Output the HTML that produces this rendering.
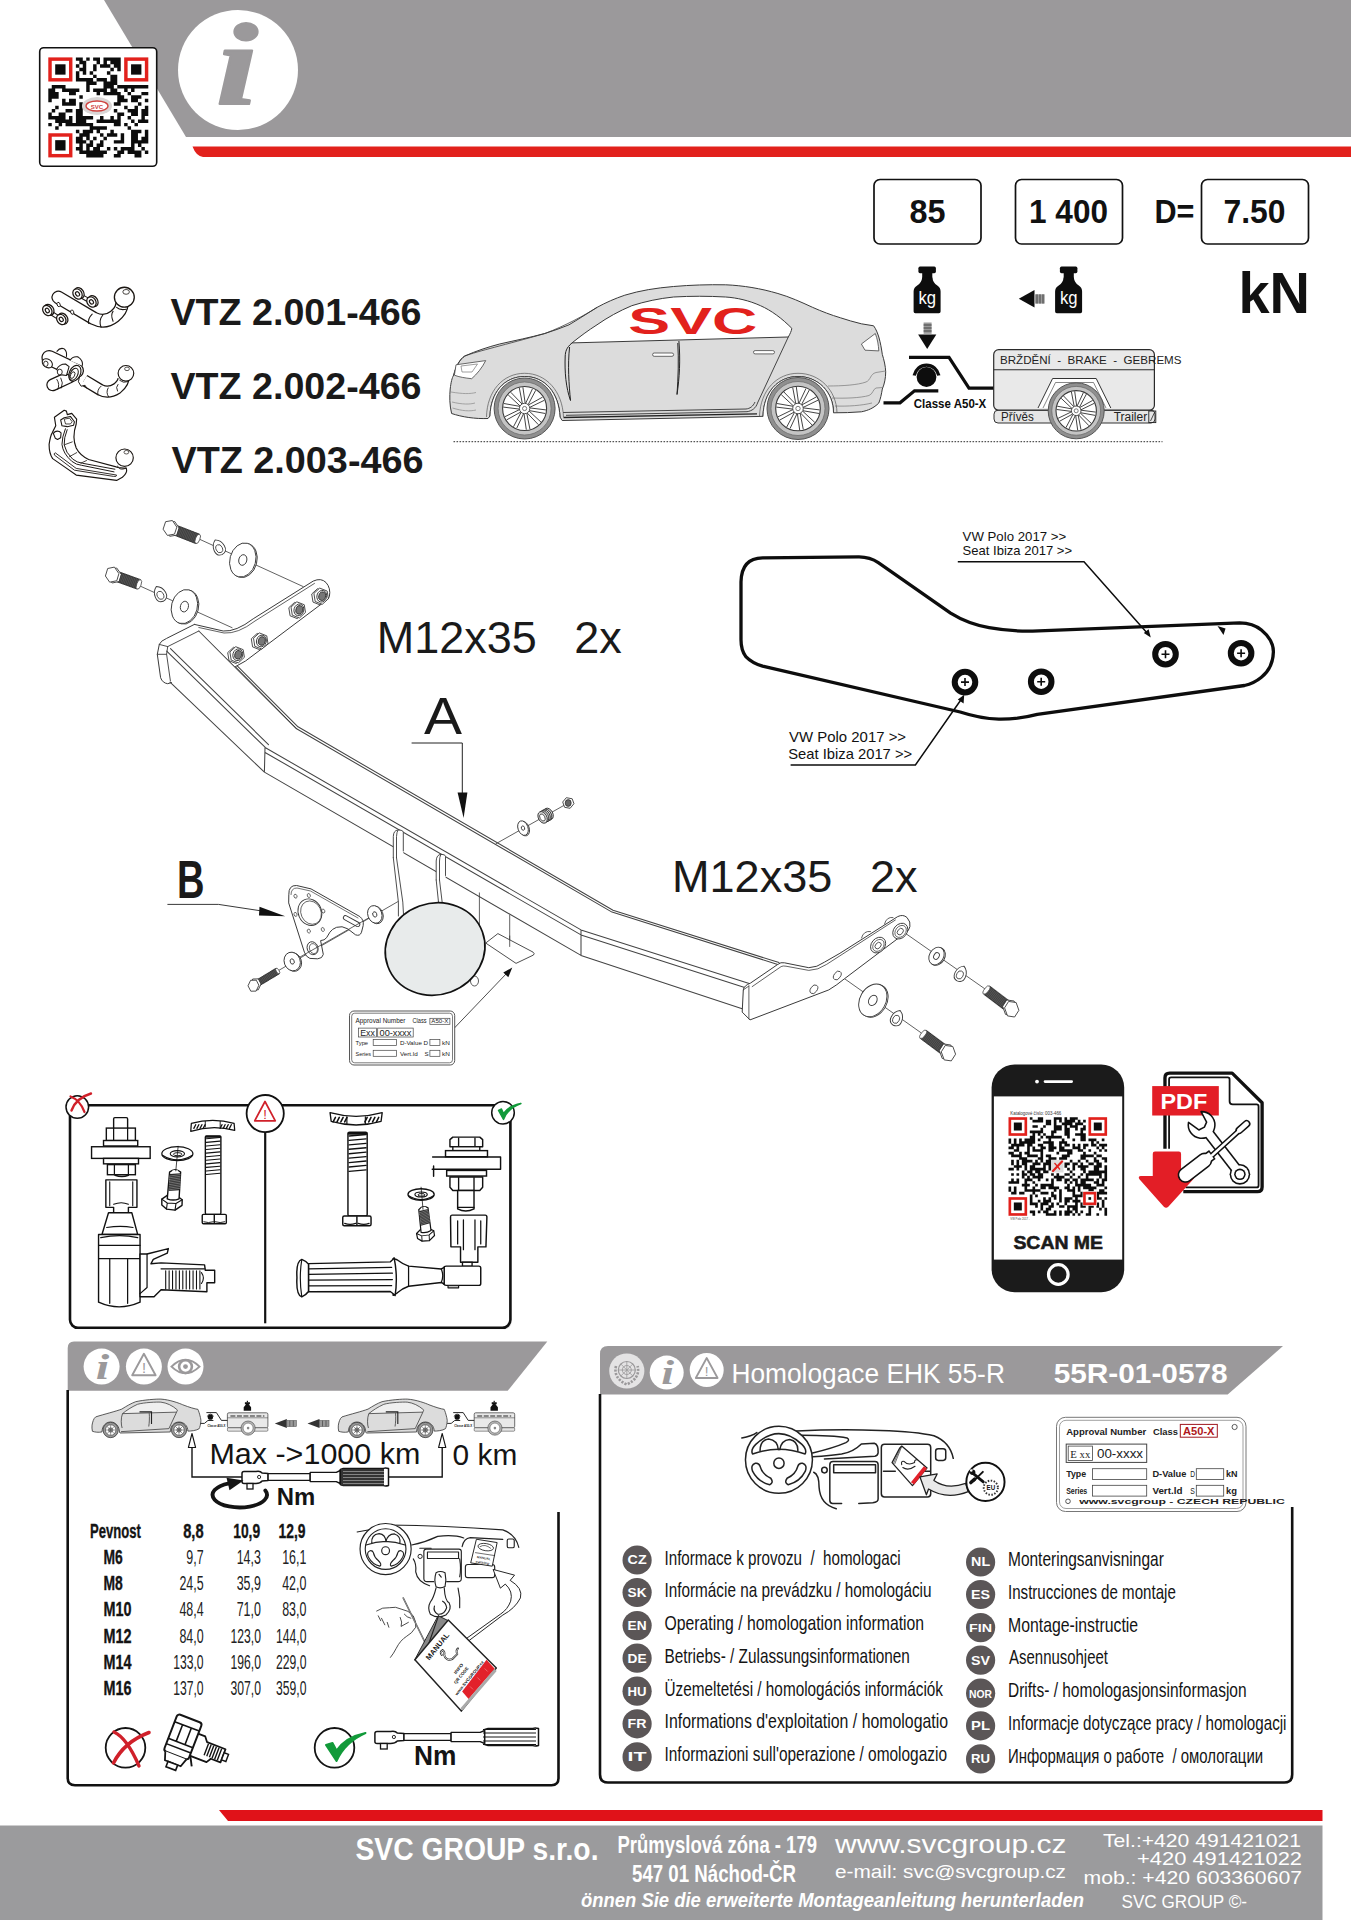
<!DOCTYPE html>
<html lang="cs"><head><meta charset="utf-8"><title>SVC GROUP - VTZ 466</title>
<style>
html,body{margin:0;padding:0;background:#fff;}
body{width:1351px;height:1920px;overflow:hidden;position:relative;}
svg{position:absolute;left:0;top:0;display:block;}
text{font-family:"Liberation Sans",sans-serif;white-space:pre;}
.b{font-weight:bold;}
.i{font-style:italic;}
.s{font-family:"Liberation Serif",serif;}
.k{fill:none;stroke:#1a1a1a;stroke-linecap:round;stroke-linejoin:round;}
</style></head><body>
<svg width="1351" height="1920" viewBox="0 0 1351 1920">
<!-- 01_frame.py -->
<path d="M104 0H1351V137H186Z" fill="#9b999b"/>
<path d="M192.5 146.5H1351V157H203Q196 156 192.5 146.5Z" fill="#e2211c"/>
<circle cx="238" cy="70" r="60" fill="#fff"/>
<text x="216.0" y="104.0" font-size="116.0" fill="#9b999b" textLength="42.0" lengthAdjust="spacingAndGlyphs" class="s b i" stroke="#9b999b" stroke-width="2" stroke-linejoin="round">i</text>
<rect x="39.7" y="47.7" width="117" height="118.6" rx="4" fill="#fff" stroke="#111" stroke-width="1.6"/>
<path d="M75.89 57.40h3.45v3.45h-3.45zM79.33 57.40h3.45v3.45h-3.45zM86.23 57.40h3.45v3.45h-3.45zM93.13 57.40h3.45v3.45h-3.45zM96.58 57.40h3.45v3.45h-3.45zM103.47 57.40h3.45v3.45h-3.45zM106.92 57.40h3.45v3.45h-3.45zM110.37 57.40h3.45v3.45h-3.45zM113.82 57.40h3.45v3.45h-3.45zM117.27 57.40h3.45v3.45h-3.45zM79.33 60.85h3.45v3.45h-3.45zM82.78 60.85h3.45v3.45h-3.45zM96.58 60.85h3.45v3.45h-3.45zM103.47 60.85h3.45v3.45h-3.45zM110.37 60.85h3.45v3.45h-3.45zM113.82 60.85h3.45v3.45h-3.45zM117.27 60.85h3.45v3.45h-3.45zM75.89 64.30h3.45v3.45h-3.45zM82.78 64.30h3.45v3.45h-3.45zM93.13 64.30h3.45v3.45h-3.45zM100.02 64.30h3.45v3.45h-3.45zM103.47 64.30h3.45v3.45h-3.45zM106.92 64.30h3.45v3.45h-3.45zM113.82 64.30h3.45v3.45h-3.45zM117.27 64.30h3.45v3.45h-3.45zM79.33 67.74h3.45v3.45h-3.45zM82.78 67.74h3.45v3.45h-3.45zM93.13 67.74h3.45v3.45h-3.45zM110.37 67.74h3.45v3.45h-3.45zM117.27 67.74h3.45v3.45h-3.45zM75.89 71.19h3.45v3.45h-3.45zM82.78 71.19h3.45v3.45h-3.45zM89.68 71.19h3.45v3.45h-3.45zM106.92 71.19h3.45v3.45h-3.45zM75.89 74.64h3.45v3.45h-3.45zM93.13 74.64h3.45v3.45h-3.45zM110.37 74.64h3.45v3.45h-3.45zM113.82 74.64h3.45v3.45h-3.45zM75.89 78.09h3.45v3.45h-3.45zM79.33 78.09h3.45v3.45h-3.45zM82.78 78.09h3.45v3.45h-3.45zM86.23 78.09h3.45v3.45h-3.45zM89.68 78.09h3.45v3.45h-3.45zM96.58 78.09h3.45v3.45h-3.45zM100.02 78.09h3.45v3.45h-3.45zM103.47 78.09h3.45v3.45h-3.45zM110.37 78.09h3.45v3.45h-3.45zM113.82 78.09h3.45v3.45h-3.45zM86.23 81.54h3.45v3.45h-3.45zM89.68 81.54h3.45v3.45h-3.45zM93.13 81.54h3.45v3.45h-3.45zM103.47 81.54h3.45v3.45h-3.45zM106.92 81.54h3.45v3.45h-3.45zM110.37 81.54h3.45v3.45h-3.45zM113.82 81.54h3.45v3.45h-3.45zM51.75 84.99h3.45v3.45h-3.45zM55.20 84.99h3.45v3.45h-3.45zM58.64 84.99h3.45v3.45h-3.45zM62.09 84.99h3.45v3.45h-3.45zM86.23 84.99h3.45v3.45h-3.45zM103.47 84.99h3.45v3.45h-3.45zM106.92 84.99h3.45v3.45h-3.45zM110.37 84.99h3.45v3.45h-3.45zM117.27 84.99h3.45v3.45h-3.45zM120.71 84.99h3.45v3.45h-3.45zM124.16 84.99h3.45v3.45h-3.45zM127.61 84.99h3.45v3.45h-3.45zM131.06 84.99h3.45v3.45h-3.45zM134.51 84.99h3.45v3.45h-3.45zM137.96 84.99h3.45v3.45h-3.45zM141.40 84.99h3.45v3.45h-3.45zM144.85 84.99h3.45v3.45h-3.45zM48.30 88.43h3.45v3.45h-3.45zM51.75 88.43h3.45v3.45h-3.45zM62.09 88.43h3.45v3.45h-3.45zM65.54 88.43h3.45v3.45h-3.45zM68.99 88.43h3.45v3.45h-3.45zM72.44 88.43h3.45v3.45h-3.45zM75.89 88.43h3.45v3.45h-3.45zM86.23 88.43h3.45v3.45h-3.45zM93.13 88.43h3.45v3.45h-3.45zM96.58 88.43h3.45v3.45h-3.45zM100.02 88.43h3.45v3.45h-3.45zM103.47 88.43h3.45v3.45h-3.45zM110.37 88.43h3.45v3.45h-3.45zM113.82 88.43h3.45v3.45h-3.45zM124.16 88.43h3.45v3.45h-3.45zM131.06 88.43h3.45v3.45h-3.45zM48.30 91.88h3.45v3.45h-3.45zM51.75 91.88h3.45v3.45h-3.45zM55.20 91.88h3.45v3.45h-3.45zM68.99 91.88h3.45v3.45h-3.45zM72.44 91.88h3.45v3.45h-3.45zM96.58 91.88h3.45v3.45h-3.45zM103.47 91.88h3.45v3.45h-3.45zM106.92 91.88h3.45v3.45h-3.45zM110.37 91.88h3.45v3.45h-3.45zM113.82 91.88h3.45v3.45h-3.45zM117.27 91.88h3.45v3.45h-3.45zM127.61 91.88h3.45v3.45h-3.45zM141.40 91.88h3.45v3.45h-3.45zM144.85 91.88h3.45v3.45h-3.45zM48.30 95.33h3.45v3.45h-3.45zM51.75 95.33h3.45v3.45h-3.45zM55.20 95.33h3.45v3.45h-3.45zM79.33 95.33h3.45v3.45h-3.45zM117.27 95.33h3.45v3.45h-3.45zM120.71 95.33h3.45v3.45h-3.45zM131.06 95.33h3.45v3.45h-3.45zM134.51 95.33h3.45v3.45h-3.45zM137.96 95.33h3.45v3.45h-3.45zM48.30 98.78h3.45v3.45h-3.45zM62.09 98.78h3.45v3.45h-3.45zM68.99 98.78h3.45v3.45h-3.45zM72.44 98.78h3.45v3.45h-3.45zM117.27 98.78h3.45v3.45h-3.45zM120.71 98.78h3.45v3.45h-3.45zM124.16 98.78h3.45v3.45h-3.45zM131.06 98.78h3.45v3.45h-3.45zM134.51 98.78h3.45v3.45h-3.45zM144.85 98.78h3.45v3.45h-3.45zM62.09 102.23h3.45v3.45h-3.45zM65.54 102.23h3.45v3.45h-3.45zM68.99 102.23h3.45v3.45h-3.45zM72.44 102.23h3.45v3.45h-3.45zM79.33 102.23h3.45v3.45h-3.45zM113.82 102.23h3.45v3.45h-3.45zM117.27 102.23h3.45v3.45h-3.45zM137.96 102.23h3.45v3.45h-3.45zM55.20 105.68h3.45v3.45h-3.45zM79.33 105.68h3.45v3.45h-3.45zM124.16 105.68h3.45v3.45h-3.45zM134.51 105.68h3.45v3.45h-3.45zM144.85 105.68h3.45v3.45h-3.45zM51.75 109.12h3.45v3.45h-3.45zM65.54 109.12h3.45v3.45h-3.45zM68.99 109.12h3.45v3.45h-3.45zM75.89 109.12h3.45v3.45h-3.45zM79.33 109.12h3.45v3.45h-3.45zM113.82 109.12h3.45v3.45h-3.45zM127.61 109.12h3.45v3.45h-3.45zM131.06 109.12h3.45v3.45h-3.45zM134.51 109.12h3.45v3.45h-3.45zM141.40 109.12h3.45v3.45h-3.45zM144.85 109.12h3.45v3.45h-3.45zM48.30 112.57h3.45v3.45h-3.45zM58.64 112.57h3.45v3.45h-3.45zM62.09 112.57h3.45v3.45h-3.45zM75.89 112.57h3.45v3.45h-3.45zM79.33 112.57h3.45v3.45h-3.45zM117.27 112.57h3.45v3.45h-3.45zM120.71 112.57h3.45v3.45h-3.45zM131.06 112.57h3.45v3.45h-3.45zM134.51 112.57h3.45v3.45h-3.45zM141.40 112.57h3.45v3.45h-3.45zM144.85 112.57h3.45v3.45h-3.45zM48.30 116.02h3.45v3.45h-3.45zM51.75 116.02h3.45v3.45h-3.45zM55.20 116.02h3.45v3.45h-3.45zM58.64 116.02h3.45v3.45h-3.45zM62.09 116.02h3.45v3.45h-3.45zM68.99 116.02h3.45v3.45h-3.45zM75.89 116.02h3.45v3.45h-3.45zM79.33 116.02h3.45v3.45h-3.45zM82.78 116.02h3.45v3.45h-3.45zM86.23 116.02h3.45v3.45h-3.45zM89.68 116.02h3.45v3.45h-3.45zM100.02 116.02h3.45v3.45h-3.45zM110.37 116.02h3.45v3.45h-3.45zM117.27 116.02h3.45v3.45h-3.45zM127.61 116.02h3.45v3.45h-3.45zM141.40 116.02h3.45v3.45h-3.45zM55.20 119.47h3.45v3.45h-3.45zM58.64 119.47h3.45v3.45h-3.45zM62.09 119.47h3.45v3.45h-3.45zM65.54 119.47h3.45v3.45h-3.45zM68.99 119.47h3.45v3.45h-3.45zM75.89 119.47h3.45v3.45h-3.45zM79.33 119.47h3.45v3.45h-3.45zM82.78 119.47h3.45v3.45h-3.45zM96.58 119.47h3.45v3.45h-3.45zM100.02 119.47h3.45v3.45h-3.45zM103.47 119.47h3.45v3.45h-3.45zM106.92 119.47h3.45v3.45h-3.45zM110.37 119.47h3.45v3.45h-3.45zM113.82 119.47h3.45v3.45h-3.45zM117.27 119.47h3.45v3.45h-3.45zM131.06 119.47h3.45v3.45h-3.45zM137.96 119.47h3.45v3.45h-3.45zM141.40 119.47h3.45v3.45h-3.45zM144.85 119.47h3.45v3.45h-3.45zM48.30 122.92h3.45v3.45h-3.45zM58.64 122.92h3.45v3.45h-3.45zM65.54 122.92h3.45v3.45h-3.45zM68.99 122.92h3.45v3.45h-3.45zM72.44 122.92h3.45v3.45h-3.45zM75.89 122.92h3.45v3.45h-3.45zM79.33 122.92h3.45v3.45h-3.45zM82.78 122.92h3.45v3.45h-3.45zM86.23 122.92h3.45v3.45h-3.45zM89.68 122.92h3.45v3.45h-3.45zM113.82 122.92h3.45v3.45h-3.45zM117.27 122.92h3.45v3.45h-3.45zM124.16 122.92h3.45v3.45h-3.45zM134.51 122.92h3.45v3.45h-3.45zM55.20 126.37h3.45v3.45h-3.45zM89.68 126.37h3.45v3.45h-3.45zM93.13 126.37h3.45v3.45h-3.45zM96.58 126.37h3.45v3.45h-3.45zM100.02 126.37h3.45v3.45h-3.45zM103.47 126.37h3.45v3.45h-3.45zM127.61 126.37h3.45v3.45h-3.45zM75.89 129.81h3.45v3.45h-3.45zM82.78 129.81h3.45v3.45h-3.45zM86.23 129.81h3.45v3.45h-3.45zM89.68 129.81h3.45v3.45h-3.45zM96.58 129.81h3.45v3.45h-3.45zM110.37 129.81h3.45v3.45h-3.45zM131.06 129.81h3.45v3.45h-3.45zM134.51 129.81h3.45v3.45h-3.45zM137.96 129.81h3.45v3.45h-3.45zM144.85 129.81h3.45v3.45h-3.45zM79.33 133.26h3.45v3.45h-3.45zM82.78 133.26h3.45v3.45h-3.45zM86.23 133.26h3.45v3.45h-3.45zM100.02 133.26h3.45v3.45h-3.45zM106.92 133.26h3.45v3.45h-3.45zM110.37 133.26h3.45v3.45h-3.45zM113.82 133.26h3.45v3.45h-3.45zM120.71 133.26h3.45v3.45h-3.45zM131.06 133.26h3.45v3.45h-3.45zM134.51 133.26h3.45v3.45h-3.45zM144.85 133.26h3.45v3.45h-3.45zM75.89 136.71h3.45v3.45h-3.45zM79.33 136.71h3.45v3.45h-3.45zM86.23 136.71h3.45v3.45h-3.45zM93.13 136.71h3.45v3.45h-3.45zM103.47 136.71h3.45v3.45h-3.45zM120.71 136.71h3.45v3.45h-3.45zM131.06 136.71h3.45v3.45h-3.45zM134.51 136.71h3.45v3.45h-3.45zM141.40 136.71h3.45v3.45h-3.45zM144.85 136.71h3.45v3.45h-3.45zM75.89 140.16h3.45v3.45h-3.45zM79.33 140.16h3.45v3.45h-3.45zM82.78 140.16h3.45v3.45h-3.45zM89.68 140.16h3.45v3.45h-3.45zM100.02 140.16h3.45v3.45h-3.45zM113.82 140.16h3.45v3.45h-3.45zM117.27 140.16h3.45v3.45h-3.45zM120.71 140.16h3.45v3.45h-3.45zM131.06 140.16h3.45v3.45h-3.45zM134.51 140.16h3.45v3.45h-3.45zM137.96 140.16h3.45v3.45h-3.45zM141.40 140.16h3.45v3.45h-3.45zM144.85 140.16h3.45v3.45h-3.45zM79.33 143.61h3.45v3.45h-3.45zM86.23 143.61h3.45v3.45h-3.45zM89.68 143.61h3.45v3.45h-3.45zM96.58 143.61h3.45v3.45h-3.45zM100.02 143.61h3.45v3.45h-3.45zM131.06 143.61h3.45v3.45h-3.45zM137.96 143.61h3.45v3.45h-3.45zM75.89 147.06h3.45v3.45h-3.45zM79.33 147.06h3.45v3.45h-3.45zM86.23 147.06h3.45v3.45h-3.45zM93.13 147.06h3.45v3.45h-3.45zM96.58 147.06h3.45v3.45h-3.45zM106.92 147.06h3.45v3.45h-3.45zM113.82 147.06h3.45v3.45h-3.45zM120.71 147.06h3.45v3.45h-3.45zM124.16 147.06h3.45v3.45h-3.45zM127.61 147.06h3.45v3.45h-3.45zM131.06 147.06h3.45v3.45h-3.45zM141.40 147.06h3.45v3.45h-3.45zM79.33 150.50h3.45v3.45h-3.45zM82.78 150.50h3.45v3.45h-3.45zM86.23 150.50h3.45v3.45h-3.45zM89.68 150.50h3.45v3.45h-3.45zM93.13 150.50h3.45v3.45h-3.45zM96.58 150.50h3.45v3.45h-3.45zM100.02 150.50h3.45v3.45h-3.45zM103.47 150.50h3.45v3.45h-3.45zM117.27 150.50h3.45v3.45h-3.45zM120.71 150.50h3.45v3.45h-3.45zM127.61 150.50h3.45v3.45h-3.45zM131.06 150.50h3.45v3.45h-3.45zM134.51 150.50h3.45v3.45h-3.45zM137.96 150.50h3.45v3.45h-3.45zM144.85 150.50h3.45v3.45h-3.45zM86.23 153.95h3.45v3.45h-3.45zM89.68 153.95h3.45v3.45h-3.45zM93.13 153.95h3.45v3.45h-3.45zM96.58 153.95h3.45v3.45h-3.45zM100.02 153.95h3.45v3.45h-3.45zM113.82 153.95h3.45v3.45h-3.45zM117.27 153.95h3.45v3.45h-3.45zM134.51 153.95h3.45v3.45h-3.45zM137.96 153.95h3.45v3.45h-3.45z" fill="#0c0c0c"/><rect x="50.02" y="59.12" width="20.69" height="20.69" fill="none" stroke="#e2211c" stroke-width="3.45"/><rect x="55.20" y="64.30" width="10.34" height="10.34" fill="#0c0c0c"/><rect x="125.89" y="59.12" width="20.69" height="20.69" fill="none" stroke="#e2211c" stroke-width="3.45"/><rect x="131.06" y="64.30" width="10.34" height="10.34" fill="#0c0c0c"/><rect x="50.02" y="134.99" width="20.69" height="20.69" fill="none" stroke="#e2211c" stroke-width="3.45"/><rect x="55.20" y="140.16" width="10.34" height="10.34" fill="#0c0c0c"/>
<ellipse cx="97" cy="106" rx="15" ry="9" fill="#d9d6d6"/><ellipse cx="97" cy="106" rx="11" ry="5" fill="#fff" stroke="#d0423f" stroke-width="1.3"/>
<text x="97.0" y="108.5" font-size="6.0" fill="#d0423f" text-anchor="middle" class="b" >SVC</text>
<rect x="874.0" y="179.5" width="107" height="64.5" rx="6" fill="#fff" stroke="#111" stroke-width="1.7"/>
<rect x="1015.5" y="179.5" width="107" height="64.5" rx="6" fill="#fff" stroke="#111" stroke-width="1.7"/>
<rect x="1201.5" y="179.5" width="107" height="64.5" rx="6" fill="#fff" stroke="#111" stroke-width="1.7"/>
<text x="927.5" y="223.0" font-size="32.5" fill="#111" textLength="36.0" lengthAdjust="spacingAndGlyphs" text-anchor="middle" class="b" >85</text>
<text x="1068.5" y="223.0" font-size="32.5" fill="#111" textLength="79.0" lengthAdjust="spacingAndGlyphs" text-anchor="middle" class="b" >1 400</text>
<text x="1254.5" y="223.0" font-size="32.5" fill="#111" textLength="62.0" lengthAdjust="spacingAndGlyphs" text-anchor="middle" class="b" >7.50</text>
<text x="1154.5" y="223.0" font-size="34.0" fill="#111" textLength="40.0" lengthAdjust="spacingAndGlyphs" class="b" >D=</text>
<text x="1238.5" y="312.7" font-size="56.5" fill="#111" textLength="71.5" lengthAdjust="spacingAndGlyphs" class="b" >kN</text>
<text x="170.5" y="325.0" font-size="36.0" fill="#1a1a1a" textLength="251.0" lengthAdjust="spacingAndGlyphs" class="b" >VTZ 2.001-466</text>
<text x="170.5" y="398.8" font-size="36.0" fill="#1a1a1a" textLength="251.0" lengthAdjust="spacingAndGlyphs" class="b" >VTZ 2.002-466</text>
<text x="171.5" y="472.6" font-size="36.0" fill="#1a1a1a" textLength="252.0" lengthAdjust="spacingAndGlyphs" class="b" >VTZ 2.003-466</text>
<path d="M0 1825.5H1322.5V1920H0Z" fill="#9b9b9d"/>
<path d="M219 1810H1322.5V1821H228Z" fill="#e01219"/>
<text x="355.5" y="1860.0" font-size="30.5" fill="#fff" textLength="243.0" lengthAdjust="spacingAndGlyphs" class="b" >SVC GROUP s.r.o.</text>
<text x="617.5" y="1853.0" font-size="24.0" fill="#fff" textLength="199.5" lengthAdjust="spacingAndGlyphs" class="b" >Průmyslová zóna - 179</text>
<text x="632.0" y="1882.0" font-size="24.0" fill="#fff" textLength="164.0" lengthAdjust="spacingAndGlyphs" class="b" >547 01 Náchod-ČR</text>
<text x="835.0" y="1853.0" font-size="26.0" fill="#fff" textLength="231.5" lengthAdjust="spacingAndGlyphs" >www.svcgroup.cz</text>
<text x="835.0" y="1878.0" font-size="18.0" fill="#fff" textLength="231.0" lengthAdjust="spacingAndGlyphs" >e-mail: svc@svcgroup.cz</text>
<text x="1103.0" y="1846.5" font-size="19.0" fill="#fff" textLength="198.0" lengthAdjust="spacingAndGlyphs" >Tel.:+420 491421021</text>
<text x="1137.0" y="1864.5" font-size="19.0" fill="#fff" textLength="165.0" lengthAdjust="spacingAndGlyphs" >+420 491421022</text>
<text x="1083.5" y="1883.5" font-size="19.0" fill="#fff" textLength="218.5" lengthAdjust="spacingAndGlyphs" >mob.: +420 603360607</text>
<text x="581.0" y="1907.0" font-size="19.5" fill="#fff" textLength="503.0" lengthAdjust="spacingAndGlyphs" class="b i" >önnen Sie die erweiterte Montageanleitung herunterladen</text>
<text x="1121.5" y="1908.0" font-size="19.0" fill="#fff" textLength="125.5" lengthAdjust="spacingAndGlyphs" >SVC GROUP ©-</text>
<!-- 02_top.py -->
<g transform="translate(30 275) scale(0.08883)"><path d="M318 252L715 487Q840 552 950 465Q1030 400 1035 330" fill="none" stroke="#1b1612" stroke-width="154" stroke-linecap="round" stroke-linejoin="round"/><path d="M318 252L715 487Q840 552 950 465Q1030 400 1035 330" fill="none" stroke="#fff" stroke-width="126" stroke-linecap="round" stroke-linejoin="round"/><path d="M700 440Q650 490 660 545M820 450Q770 510 800 590M935 410Q905 450 935 520M975 365Q1010 400 1085 385" fill="none" stroke="#1b1612" stroke-width="12" stroke-linecap="round"/><circle cx="1062" cy="250" r="112" fill="#fff" stroke="#1b1612" stroke-width="15"/><ellipse cx="1082" cy="190" rx="37" ry="27" fill="none" stroke="#1b1612" stroke-width="9"/><path d="M195 400L352 500" stroke="#1b1612" stroke-width="52" fill="none"/><path d="M195 400L352 500" stroke="#fff" stroke-width="28" fill="none"/><ellipse cx="213" cy="392" rx="52" ry="66" transform="rotate(-35 213 392)" fill="#fff" stroke="#1b1612" stroke-width="14"/><ellipse cx="195" cy="400" rx="48" ry="62" transform="rotate(-35 195 400)" fill="#fff" stroke="#1b1612" stroke-width="14"/><ellipse cx="195" cy="400" rx="20" ry="27" transform="rotate(-35 195 400)" fill="#fff" stroke="#1b1612" stroke-width="13"/><ellipse cx="370" cy="492" rx="52" ry="66" transform="rotate(-35 370 492)" fill="#fff" stroke="#1b1612" stroke-width="14"/><ellipse cx="352" cy="500" rx="48" ry="62" transform="rotate(-35 352 500)" fill="#fff" stroke="#1b1612" stroke-width="14"/><ellipse cx="352" cy="500" rx="20" ry="27" transform="rotate(-35 352 500)" fill="#fff" stroke="#1b1612" stroke-width="13"/><path d="M535 213L692 303" stroke="#1b1612" stroke-width="52" fill="none"/><path d="M535 213L692 303" stroke="#fff" stroke-width="28" fill="none"/><ellipse cx="553" cy="205" rx="52" ry="66" transform="rotate(-35 553 205)" fill="#fff" stroke="#1b1612" stroke-width="14"/><ellipse cx="535" cy="213" rx="48" ry="62" transform="rotate(-35 535 213)" fill="#fff" stroke="#1b1612" stroke-width="14"/><ellipse cx="535" cy="213" rx="20" ry="27" transform="rotate(-35 535 213)" fill="#fff" stroke="#1b1612" stroke-width="13"/><ellipse cx="710" cy="295" rx="52" ry="66" transform="rotate(-35 710 295)" fill="#fff" stroke="#1b1612" stroke-width="14"/><ellipse cx="692" cy="303" rx="48" ry="62" transform="rotate(-35 692 303)" fill="#fff" stroke="#1b1612" stroke-width="14"/><ellipse cx="692" cy="303" rx="20" ry="27" transform="rotate(-35 692 303)" fill="#fff" stroke="#1b1612" stroke-width="13"/><ellipse cx="322" cy="332" rx="17" ry="25" transform="rotate(-20 322 332)" fill="#fff" stroke="#1b1612" stroke-width="10"/><ellipse cx="475" cy="418" rx="17" ry="25" transform="rotate(-20 475 418)" fill="#fff" stroke="#1b1612" stroke-width="10"/></g>
<g transform="translate(30 340) scale(0.08883)"><path d="M610 452L790 560Q880 610 980 545Q1060 480 1050 420" fill="none" stroke="#1b1612" stroke-width="136" stroke-linecap="butt" stroke-linejoin="round"/><path d="M610 452L790 560Q880 610 980 545Q1060 480 1050 420" fill="none" stroke="#fff" stroke-width="108" stroke-linecap="butt" stroke-linejoin="round"/><path d="M560 400L545 470L575 520L620 510L640 545" fill="#fff" stroke="#1b1612" stroke-width="11"/><path d="M800 520Q750 560 765 620M880 540Q850 590 885 640M990 500Q960 530 985 575M1010 455Q1050 490 1100 470" fill="none" stroke="#1b1612" stroke-width="10" stroke-linecap="round"/><circle cx="1080" cy="375" r="88" fill="#fff" stroke="#1b1612" stroke-width="13"/><ellipse cx="1092" cy="325" rx="27" ry="20" fill="none" stroke="#1b1612" stroke-width="8"/><path d="M255 505L440 420" fill="none" stroke="#1b1612" stroke-width="144" stroke-linecap="round" stroke-linejoin="round"/><path d="M255 505L440 420" fill="none" stroke="#fff" stroke-width="116" stroke-linecap="round" stroke-linejoin="round"/><path d="M300 440Q340 500 310 560M345 425Q380 480 350 545" fill="none" stroke="#1b1612" stroke-width="10"/><path d="M215 200L520 345" fill="none" stroke="#1b1612" stroke-width="176" stroke-linecap="round" stroke-linejoin="round"/><path d="M215 200L520 345" fill="none" stroke="#fff" stroke-width="148" stroke-linecap="round" stroke-linejoin="round"/><path d="M300 130Q340 80 385 100Q420 130 410 190M450 230Q480 180 540 190Q600 230 590 290" fill="#fff" stroke="#1b1612" stroke-width="12"/><ellipse cx="195" cy="262" rx="62" ry="46" transform="rotate(35 195 262)" fill="#fff" stroke="#1b1612" stroke-width="12"/><ellipse cx="178" cy="268" rx="25" ry="30" fill="#fff" stroke="#1b1612" stroke-width="10"/><path d="M300 330Q330 270 400 270L440 300L410 400L340 390Z" fill="#fff" stroke="#1b1612" stroke-width="12" stroke-linejoin="round"/><ellipse cx="335" cy="360" rx="28" ry="32" fill="#fff" stroke="#1b1612" stroke-width="10"/><ellipse cx="505" cy="375" rx="62" ry="95" transform="rotate(25 505 375)" fill="#fff" stroke="#1b1612" stroke-width="13"/><ellipse cx="495" cy="385" rx="42" ry="72" transform="rotate(25 495 385)" fill="#fff" stroke="#1b1612" stroke-width="11"/><ellipse cx="480" cy="395" rx="22" ry="40" transform="rotate(25 480 395)" fill="#fff" stroke="#1b1612" stroke-width="9"/></g>
<g transform="translate(30 400) scale(0.08883)"><path d="M275 195L385 115L410 125L420 165L470 150L525 215L520 270Q470 420 520 540Q560 620 660 670L960 750L990 760L1085 770Q1100 820 1040 870L975 905L520 845Q400 760 255 660Q215 600 215 500Q230 400 250 370L290 290Z" fill="#fff" stroke="#1b1612" stroke-width="13" stroke-linejoin="round"/><path d="M285 595Q265 600 275 620L500 790L940 860Q980 865 975 845L520 770Z" fill="#fff" stroke="#1b1612" stroke-width="10" stroke-linejoin="round"/><path d="M400 320Q360 420 360 500Q370 600 470 690Q520 730 580 735L950 810M420 330Q380 430 385 505Q400 590 480 665Q530 705 590 712L960 780" fill="none" stroke="#1b1612" stroke-width="11"/><path d="M385 505L480 470M440 640L530 590M570 712L640 680" fill="none" stroke="#1b1612" stroke-width="9"/><path d="M345 225L385 200L455 185L500 245L490 285L420 300L360 290Z" fill="#fff" stroke="#1b1612" stroke-width="12" stroke-linejoin="round"/><path d="M385 215L445 205L475 245L455 270L400 270Z" fill="#fff" stroke="#1b1612" stroke-width="9"/><path d="M262 375Q290 340 330 355L350 370L345 425L310 445L285 430Z" fill="#fff" stroke="#1b1612" stroke-width="12" stroke-linejoin="round"/><path d="M985 740Q1000 790 1060 775L1085 760" fill="none" stroke="#1b1612" stroke-width="10"/><circle cx="1065" cy="650" r="98" fill="#fff" stroke="#1b1612" stroke-width="13"/><ellipse cx="1085" cy="588" rx="27" ry="20" fill="none" stroke="#1b1612" stroke-width="8"/></g>
<path d="M453.5 441.7H1162.5" stroke="#555" stroke-width="1.2" stroke-dasharray="1.6 1.4" fill="none"/>
<g transform="translate(0.00 0.00) scale(1.0000)"><path d="M451.6 413.5C449.5 405 449.5 396 450.2 389C451 382 452 378 453.7 375C456 366 460 359 464.8 356C476 351 488 347 499.6 344C515 340.5 530 337.5 544.8 333.5C553 331 561 328 569 324.8C578 319.5 588 313 597 307.4C606 302.5 615 298.5 624.8 295.2C640 290.5 656 288 673.5 286.5C691 285 708 284.5 725.7 284.8C743 285.5 761 288.5 777.9 293.5C790 297 801 302 812.7 307.4C822 311.5 831 315 840.5 317.8C847 320 854 322 861.4 323.8L873.6 325.8C876 329 877.5 333 878.8 337C880.5 343 881.5 348.5 882.3 354.4C884 360 885.5 366 885.7 371.8C885.7 378 884.5 384 882.3 389C881.5 394 880.5 399 878.8 403C874 408 868 410.5 861.4 411.8C852 412.6 843 412.8 833.5 412.8C833.5 392 818 376.5 798 376.5C778 376.5 763.5 392 763 416.3L757 416.5L562.2 420.5L560 417C559 393 545 376.5 524.6 376.5C504 376.5 490.5 393 490 416L488 418.5C475 419 462 417 451.6 413.5Z" fill="#dcdcdc" stroke="#3a3a3a" stroke-width="1" stroke-linejoin="round"/><path d="M572 342.9L788.3 337C790 334 791.5 331 791.8 328.3C782 318.5 771.5 310.5 760.5 305.7C749 300.5 737 297.8 725.7 297C708 296 691 296 673.5 297C659 298.5 645 301.5 631.8 305.7C619 311 607.5 317.5 597 324.8C588 330.5 580 336.5 572 342.9Z" fill="#fff" stroke="#3a3a3a" stroke-width="1" stroke-linejoin="round"/><path d="M453.7 375C456 366 460 359 464.8 356C478 351 505 345 544.8 333.5C565 326 585 315 597 307.4" fill="none" stroke="#3a3a3a" stroke-width="0.8"/><path d="M572 342.9C566 348 565.5 352 565.2 356C564.5 372 566 388 570.5 400.5M569.6 347C567.5 365 569 385 570.5 400.5" fill="none" stroke="#222" stroke-width="1"/><path d="M678.9 341C680.5 360 679.5 378 677 394.5M677.8 343C678.8 360 678.2 378 677 394.5" fill="none" stroke="#222" stroke-width="1"/><path d="M788.3 337L757.5 403C756 408 752 411 747 411.7L566 415.3M563 412.5L746 409C750 408.5 753 406.5 755 402" fill="none" stroke="#333" stroke-width="0.9"/><path d="M563.5 417.5L757 413.8" stroke="#222" stroke-width="1.3" fill="none"/><rect x="652.6" y="353" width="21" height="3.3" rx="1.6" fill="#fff" stroke="#444" stroke-width="0.8"/><rect x="753.5" y="350.6" width="21" height="3.3" rx="1.6" fill="#fff" stroke="#444" stroke-width="0.8"/><path d="M456 364.8L485.7 360.6C482 368 477 374 471.7 378.7C465 378 459 377 454.4 375.2Z" fill="#fff" stroke="#444" stroke-width="0.8" stroke-linejoin="round"/><path d="M461 366L477.5 364L472 372L462 372Z" fill="none" stroke="#777" stroke-width="0.7"/><path d="M861.4 344L875.3 333.5C877.5 339 878.5 345 878.8 350.9L865 350.2Z" fill="#fff" stroke="#444" stroke-width="0.8" stroke-linejoin="round"/><path d="M451 392C463 394 470 394 476 392.5M452 402C462 404.5 470 404.5 475 403M452.5 408C462 411 470 411.5 476 410" fill="none" stroke="#888" stroke-width="0.7"/><path d="M828 386C842 386 858 385 866 382C871 380 870 374 876 372.5L885.5 371M832 398C845 398.5 860 398 869 395.5C873 394 873 389 876 388L883 387.5M835 406C848 406.5 862 405.5 872 403" fill="none" stroke="#777" stroke-width="0.7"/><path d="M490 416C490.5 393 504 376.5 524.6 376.5C545 376.5 559 393 560 417M763 416.3C763.5 392 778 376.5 798 376.5C818 376.5 833.5 392 833.5 412.8" fill="#fff" stroke="#3a3a3a" stroke-width="0.9"/><path d="M486.5 417C487 391 503 373.3 524.6 373.3C546 373.3 562.5 391 563.5 417" fill="none" stroke="#555" stroke-width="0.7"/><path d="M759.5 416C760.5 390 777 373.3 798 373.3C819.5 373.3 836.5 390 837 412.8" fill="none" stroke="#555" stroke-width="0.7"/><circle cx="524.6" cy="408.5" r="30.5" fill="#8f8f8f" stroke="#555" stroke-width="1"/><circle cx="524.6" cy="408.5" r="26.5" fill="#c4c4c4" stroke="#666" stroke-width="0.7"/><circle cx="524.6" cy="408.5" r="22.0" fill="#fff" stroke="#3a3a3a" stroke-width="1.1"/><path d="M529.7 407.9L545.9 409.9M529.3 410.6L545.3 413.5M529.1 411.0L541.0 422.1M527.2 413.0L538.4 424.7M526.8 413.2L529.9 429.1M524.0 413.7L526.3 429.7M523.6 413.6L516.7 428.3M521.1 412.3L513.5 426.7M520.8 412.0L506.6 419.9M519.5 409.6L504.9 416.7M519.5 409.1L503.3 407.1M519.9 406.4L503.9 403.5M520.1 406.0L508.2 394.9M522.0 404.0L510.8 392.3M522.4 403.8L519.3 387.9M525.2 403.3L522.9 387.3M525.6 403.4L532.5 388.7M528.1 404.7L535.7 390.3M528.4 405.0L542.6 397.1M529.7 407.4L544.3 400.3" stroke="#3a3a3a" stroke-width="0.95" fill="none"/><circle cx="524.6" cy="408.5" r="5.2" fill="#fff" stroke="#3a3a3a" stroke-width="0.9"/><circle cx="524.6" cy="408.5" r="2.1" fill="#fff" stroke="#444" stroke-width="0.7"/><circle cx="798.0" cy="408.5" r="31.0" fill="#8f8f8f" stroke="#555" stroke-width="1"/><circle cx="798.0" cy="408.5" r="27.0" fill="#c4c4c4" stroke="#666" stroke-width="0.7"/><circle cx="798.0" cy="408.5" r="22.3" fill="#fff" stroke="#3a3a3a" stroke-width="1.1"/><path d="M803.2 407.9L819.6 409.9M802.8 410.7L819.1 413.5M802.6 411.1L814.7 422.3M800.6 413.1L812.1 425.0M800.2 413.3L803.3 429.5M797.4 413.7L799.7 430.1M797.0 413.7L790.0 428.6M794.5 412.4L786.7 427.0M794.1 412.1L779.7 420.1M792.8 409.6L778.0 416.8M792.8 409.1L776.4 407.1M793.2 406.3L776.9 403.5M793.4 405.9L781.3 394.7M795.4 403.9L783.9 392.0M795.8 403.7L792.7 387.5M798.6 403.3L796.3 386.9M799.0 403.3L806.0 388.4M801.5 404.6L809.3 390.0M801.9 404.9L816.3 396.9M803.2 407.4L818.0 400.2" stroke="#3a3a3a" stroke-width="0.95" fill="none"/><circle cx="798.0" cy="408.5" r="5.3" fill="#fff" stroke="#3a3a3a" stroke-width="0.9"/><circle cx="798.0" cy="408.5" r="2.2" fill="#fff" stroke="#444" stroke-width="0.7"/></g>
<text x="628.3" y="333.5" font-size="36.5" fill="#e2211c" textLength="129.0" lengthAdjust="spacingAndGlyphs" class="b" >SVC</text>
<path d="M883.5 402.8H900L914.5 390.8H938.3" fill="none" stroke="#0d0d0d" stroke-width="3.2" stroke-linejoin="miter"/>
<path d="M909 357.3H949L969 388.2H994" fill="none" stroke="#0d0d0d" stroke-width="3.2" stroke-linejoin="miter"/>
<circle cx="926.5" cy="377" r="9.9" fill="#0d0d0d"/><path d="M914.2 375.5A12.6 13.2 0 0 1 938.8 375.5" fill="none" stroke="#0d0d0d" stroke-width="3.4"/>
<text x="913.8" y="407.8" font-size="12.3" fill="#0d0d0d" textLength="72.5" lengthAdjust="spacingAndGlyphs" class="b" >Classe A50-X</text>
<path d="M918.1 334.4H936.3L927.2 349Z" fill="#0d0d0d"/><rect x="923.6" y="322.5" width="8" height="11.3" fill="#9a9a9a"/><path d="M923.6 325H931.6M923.6 328H931.6M923.6 331H931.6" stroke="#444" stroke-width="1"/>
<g transform="translate(913.8 266.0)"><rect x="4.6" y="0.6" width="17.5" height="6.6" rx="1.6" fill="#0d0d0d"/><rect x="8.4" y="5" width="10.1" height="9" fill="#0d0d0d"/><path d="M8.4 11.5H18.5Q19 16.5 23.5 19.5Q26.8 21.5 26.8 25.5V45.6Q26.8 47.3 25.1 47.3H1.5Q-0.2 47.3 -0.2 45.6V25.5Q-0.2 21.5 3.4 19.5Q7.9 16.5 8.4 11.5Z" fill="#0d0d0d"/><text x="13.5" y="38.2" font-size="18.5" fill="#fff" textLength="17.6" lengthAdjust="spacingAndGlyphs" text-anchor="middle" >kg</text></g>
<g transform="translate(1055.3 266.0)"><rect x="4.6" y="0.6" width="17.5" height="6.6" rx="1.6" fill="#0d0d0d"/><rect x="8.4" y="5" width="10.1" height="9" fill="#0d0d0d"/><path d="M8.4 11.5H18.5Q19 16.5 23.5 19.5Q26.8 21.5 26.8 25.5V45.6Q26.8 47.3 25.1 47.3H1.5Q-0.2 47.3 -0.2 45.6V25.5Q-0.2 21.5 3.4 19.5Q7.9 16.5 8.4 11.5Z" fill="#0d0d0d"/><text x="13.5" y="38.2" font-size="18.5" fill="#fff" textLength="17.6" lengthAdjust="spacingAndGlyphs" text-anchor="middle" >kg</text></g>
<path d="M1018.8 298.8L1034.5 290V307.6Z" fill="#0d0d0d"/><rect x="1034.5" y="294.3" width="10.2" height="9.3" fill="#9a9a9a"/><path d="M1037 294.3V303.6M1040 294.3V303.6M1043 294.3V303.6" stroke="#444" stroke-width="1"/>
<rect x="994" y="410.2" width="161" height="12.8" rx="4" fill="#e6e6e6" stroke="#333" stroke-width="1"/>
<rect x="993.7" y="349.7" width="160.7" height="60.5" rx="5" fill="#e9e9e9" stroke="#2a2a2a" stroke-width="1.2"/>
<path d="M993.7 369.7H1154.4" stroke="#2a2a2a" stroke-width="1.1"/>
<path d="M1038 408L1052.6 378.5H1096.2L1110.8 408" fill="#fff" stroke="#333" stroke-width="1" stroke-linejoin="round"/><path d="M1043 408L1055.5 382.5H1093.5L1106 408" fill="#fff" stroke="#555" stroke-width="0.7" stroke-linejoin="round"/>
<circle cx="1076.2" cy="410.8" r="28.0" fill="#8f8f8f" stroke="#555" stroke-width="1"/><circle cx="1076.2" cy="410.8" r="24.4" fill="#c4c4c4" stroke="#666" stroke-width="0.7"/><circle cx="1076.2" cy="410.8" r="20.2" fill="#fff" stroke="#3a3a3a" stroke-width="1.1"/><path d="M1080.9 410.2L1095.7 412.1M1080.5 412.7L1095.2 415.4M1080.4 413.1L1091.2 423.3M1078.6 414.9L1088.9 425.7M1078.2 415.1L1081.0 429.8M1075.7 415.5L1077.7 430.3M1075.3 415.5L1069.0 429.0M1073.0 414.3L1066.0 427.5M1072.7 414.0L1059.7 421.2M1071.5 411.8L1058.1 418.3M1071.5 411.4L1056.7 409.5M1071.9 408.9L1057.2 406.2M1072.0 408.5L1061.2 398.3M1073.8 406.7L1063.5 395.9M1074.2 406.5L1071.4 391.8M1076.7 406.1L1074.7 391.3M1077.1 406.1L1083.4 392.6M1079.4 407.3L1086.4 394.1M1079.7 407.6L1092.7 400.4M1080.9 409.8L1094.3 403.3" stroke="#3a3a3a" stroke-width="0.95" fill="none"/><circle cx="1076.2" cy="410.8" r="4.8" fill="#fff" stroke="#3a3a3a" stroke-width="0.9"/><circle cx="1076.2" cy="410.8" r="2.0" fill="#fff" stroke="#444" stroke-width="0.7"/>
<text x="1000.0" y="363.6" font-size="11.4" fill="#222" textLength="181.5" lengthAdjust="spacingAndGlyphs" >BRŽDĚNÍ  -  BRAKE  -  GEBREMS</text>
<text x="1001.0" y="421.0" font-size="12.3" fill="#222" textLength="32.8" lengthAdjust="spacingAndGlyphs" >Přívěs</text>
<text x="1113.7" y="421.0" font-size="12.3" fill="#222" textLength="33.5" lengthAdjust="spacingAndGlyphs" >Trailer</text>
<rect x="1148.8" y="411" width="7" height="11.6" fill="none" stroke="#222" stroke-width="0.9"/><path d="M1150.5 421L1154.5 412.5" stroke="#222" stroke-width="0.8"/>
<!-- 03_hitch.py -->
<path d="M198.8 538.9L303.2 586.6M138.9 585.5L232.1 627.7" fill="none" stroke="#3a3a3a" stroke-width="0.8" stroke-linecap="round" stroke-linejoin="round" />
<path d="M905.4 933.3L986.5 990M840 975.5L923.2 1034.3" fill="none" stroke="#3a3a3a" stroke-width="0.8" stroke-linecap="round" stroke-linejoin="round" />
<path d="M277.7 971L398.8 901.1" fill="none" stroke="#3a3a3a" stroke-width="0.8" stroke-linecap="round" stroke-linejoin="round" />
<path d="M496 843.7L568.2 803" fill="none" stroke="#3a3a3a" stroke-width="0.8" stroke-linecap="round" stroke-linejoin="round" />
<path d="M198.8 631L296.6 728.8L612 912.1L777.7 964.4M201.5 630L298 726.8L613 910.2L779 962.6M166.7 651.1L265.5 747.7L581 929.9L750 983.7M170.5 648.6L268.5 744.6M265.5 752.7L581 934.9L747 988.2M170 682.2L264.4 772.1L581 955.4L742.2 1008.8M265 747.7L264.4 772.1M581 929.9V955.4" fill="none" stroke="#444" stroke-width="1.05" stroke-linecap="round" stroke-linejoin="round" />
<path d="M235.5 666.6L296.6 728.8" fill="none" stroke="#3a3a3a" stroke-width="0.8" stroke-linecap="round" stroke-linejoin="round" />
<path d="M194.4 624.4L166.6 638.4Q160.5 641 159.3 644.4L157.3 654.3L160.6 677.7Q162.5 683 167.7 683.7L171.5 682.6" fill="none" stroke="#3a3a3a" stroke-width="1" stroke-linecap="round" stroke-linejoin="round" />
<path d="M198.8 631L167.7 646.6L166.6 654.3L170.4 681M159.3 644.4L167.7 646.6M157.3 654.3L166.6 654.3" fill="none" stroke="#3a3a3a" stroke-width="0.9" stroke-linecap="round" stroke-linejoin="round" />
<path d="M194.4 624.4L223.2 631Q236 632 253.2 618.8L313.2 581.1Q321 577.5 326 582.5Q331 588 329.4 596.6Q328.5 599.5 325.4 601L245.5 661L235.5 666.6" fill="#fff" stroke="#3a3a3a" stroke-width="1" stroke-linecap="round" stroke-linejoin="round" />
<path d="M198.8 627.5L224 633Q238 634 255 621L314.5 583.4" fill="none" stroke="#3a3a3a" stroke-width="0.8" stroke-linecap="round" stroke-linejoin="round" />
<path d="M325.9 599.6L320.1 604.9L313.0 602.1L311.7 594.0L317.5 588.7L324.6 591.5Z" fill="#fff" stroke="#3a3a3a" stroke-width="0.9" stroke-linecap="round" stroke-linejoin="round" /><path d="M328.1 599.0L322.3 604.3L315.2 601.5L313.9 593.4L319.7 588.1L326.8 590.9Z" fill="#fff" stroke="#3a3a3a" stroke-width="0.9" stroke-linecap="round" stroke-linejoin="round" /><ellipse cx="321.8" cy="596.2" rx="4.9" ry="5.9" transform="rotate(15.0 321.8 596.2)" fill="#fff" stroke="#3a3a3a" stroke-width="0.9"/><ellipse cx="322.2" cy="596.2" rx="3.4" ry="4.3" transform="rotate(15.0 322.2 596.2)" fill="#777" stroke="#222" stroke-width="0.8"/>
<path d="M303.0 613.3L297.2 618.6L290.1 615.8L288.8 607.7L294.6 602.4L301.7 605.2Z" fill="#fff" stroke="#3a3a3a" stroke-width="0.9" stroke-linecap="round" stroke-linejoin="round" /><path d="M305.2 612.7L299.4 618.0L292.3 615.2L291.0 607.1L296.8 601.8L303.9 604.6Z" fill="#fff" stroke="#3a3a3a" stroke-width="0.9" stroke-linecap="round" stroke-linejoin="round" /><ellipse cx="298.9" cy="609.9" rx="4.9" ry="5.9" transform="rotate(15.0 298.9 609.9)" fill="#fff" stroke="#3a3a3a" stroke-width="0.9"/><ellipse cx="299.3" cy="609.9" rx="3.4" ry="4.3" transform="rotate(15.0 299.3 609.9)" fill="#777" stroke="#222" stroke-width="0.8"/>
<path d="M265.5 644.4L259.7 649.7L252.6 646.9L251.3 638.8L257.1 633.5L264.2 636.3Z" fill="#fff" stroke="#3a3a3a" stroke-width="0.9" stroke-linecap="round" stroke-linejoin="round" /><path d="M267.7 643.8L261.9 649.1L254.8 646.3L253.5 638.2L259.3 632.9L266.4 635.7Z" fill="#fff" stroke="#3a3a3a" stroke-width="0.9" stroke-linecap="round" stroke-linejoin="round" /><ellipse cx="261.4" cy="641.0" rx="4.9" ry="5.9" transform="rotate(15.0 261.4 641.0)" fill="#fff" stroke="#3a3a3a" stroke-width="0.9"/><ellipse cx="261.8" cy="641.0" rx="3.4" ry="4.3" transform="rotate(15.0 261.8 641.0)" fill="#777" stroke="#222" stroke-width="0.8"/>
<path d="M241.9 658.2L236.1 663.5L229.0 660.7L227.7 652.6L233.5 647.3L240.6 650.1Z" fill="#fff" stroke="#3a3a3a" stroke-width="0.9" stroke-linecap="round" stroke-linejoin="round" /><path d="M244.1 657.6L238.3 662.9L231.2 660.1L229.9 652.0L235.7 646.7L242.8 649.5Z" fill="#fff" stroke="#3a3a3a" stroke-width="0.9" stroke-linecap="round" stroke-linejoin="round" /><ellipse cx="237.8" cy="654.8" rx="4.9" ry="5.9" transform="rotate(15.0 237.8 654.8)" fill="#fff" stroke="#3a3a3a" stroke-width="0.9"/><ellipse cx="238.2" cy="654.8" rx="3.4" ry="4.3" transform="rotate(15.0 238.2 654.8)" fill="#777" stroke="#222" stroke-width="0.8"/>
<path d="M174.5 535.2L195.9 543.6L199.5 534.2L178.1 525.9Z" fill="#555" stroke="#222" stroke-width="0.8" stroke-linecap="round" stroke-linejoin="round" /><path d="M176.0 535.8L179.7 526.5M177.5 536.4L181.2 527.1M179.1 537.0L182.7 527.7M180.6 537.6L184.2 528.2M182.1 538.2L185.8 528.8M183.6 538.8L187.3 529.4M185.2 539.4L188.8 530.0M186.7 540.0L190.4 530.6M188.2 540.6L191.9 531.2M189.8 541.2L193.4 531.8M191.3 541.8L194.9 532.4M192.8 542.4L196.5 533.0M194.3 543.0L198.0 533.6" fill="none" stroke="#2b2b2b" stroke-width="0.5" stroke-linecap="round" stroke-linejoin="round" /><ellipse cx="197.7" cy="538.9" rx="2.2" ry="5.0" transform="rotate(21.4 197.7 538.9)" fill="#fff" stroke="#3a3a3a" stroke-width="0.7"/><path d="M176.4 535.2L169.7 536.3L165.5 530.1L168.0 522.6L174.7 521.5L178.9 527.7Z" fill="#fff" stroke="#3a3a3a" stroke-width="0.9" stroke-linecap="round" stroke-linejoin="round" /><path d="M174.1 534.2L167.4 535.4L163.1 529.2L165.6 521.7L172.4 520.5L176.6 526.8Z" fill="#fff" stroke="#3a3a3a" stroke-width="0.9" stroke-linecap="round" stroke-linejoin="round" />
<path d="M116.8 581.7L137.2 589.1L140.6 579.7L120.2 572.3Z" fill="#555" stroke="#222" stroke-width="0.8" stroke-linecap="round" stroke-linejoin="round" /><path d="M118.4 582.3L121.8 572.9M120.0 582.8L123.4 573.4M121.5 583.4L124.9 574.0M123.1 584.0L126.5 574.6M124.7 584.5L128.1 575.1M126.2 585.1L129.6 575.7M127.8 585.7L131.2 576.3M129.4 586.3L132.8 576.9M130.9 586.8L134.3 577.4M132.5 587.4L135.9 578.0M134.1 588.0L137.5 578.6M135.6 588.5L139.0 579.1" fill="none" stroke="#2b2b2b" stroke-width="0.5" stroke-linecap="round" stroke-linejoin="round" /><ellipse cx="138.9" cy="584.4" rx="2.2" ry="5.0" transform="rotate(20.0 138.9 584.4)" fill="#fff" stroke="#3a3a3a" stroke-width="0.7"/><path d="M118.8 581.6L112.1 583.0L107.7 576.9L110.0 569.4L116.7 568.0L121.1 574.1Z" fill="#fff" stroke="#3a3a3a" stroke-width="0.9" stroke-linecap="round" stroke-linejoin="round" /><path d="M116.4 580.8L109.7 582.2L105.4 576.0L107.7 568.5L114.4 567.1L118.7 573.3Z" fill="#fff" stroke="#3a3a3a" stroke-width="0.9" stroke-linecap="round" stroke-linejoin="round" />
<g transform="translate(218.8 547.8) rotate(-25.0)"><path d="M0 -8.7C-6.8 -4.6 -7.6 6.8 0.0 7.6C9.1 6.8 6.8 -5.3 0 -8.7Z" fill="#fff" stroke="#3a3a3a" stroke-width="0.9" stroke-linecap="round" stroke-linejoin="round" /><ellipse cx="0" cy="1" rx="3.2" ry="4.2" fill="#fff" stroke="#3a3a3a" stroke-width="0.8"/></g>
<g transform="translate(160.0 594.4) rotate(-25.0)"><path d="M0 -8.7C-6.8 -4.6 -7.6 6.8 0.0 7.6C9.1 6.8 6.8 -5.3 0 -8.7Z" fill="#fff" stroke="#3a3a3a" stroke-width="0.9" stroke-linecap="round" stroke-linejoin="round" /><ellipse cx="0" cy="1" rx="3.2" ry="4.2" fill="#fff" stroke="#3a3a3a" stroke-width="0.8"/></g>
<ellipse cx="244.0" cy="560.5" rx="12.9" ry="17.3" transform="rotate(15.0 244.0 560.5)" fill="#fff" stroke="#3a3a3a" stroke-width="0.9"/><ellipse cx="242.8" cy="560.0" rx="12.9" ry="17.3" transform="rotate(15.0 242.8 560.0)" fill="#fff" stroke="#3a3a3a" stroke-width="0.9"/><ellipse cx="242.8" cy="560.0" rx="4.0" ry="5.4" transform="rotate(15.0 242.8 560.0)" fill="#fff" stroke="#3a3a3a" stroke-width="0.9"/>
<ellipse cx="185.6" cy="607.1" rx="12.9" ry="17.3" transform="rotate(15.0 185.6 607.1)" fill="#fff" stroke="#3a3a3a" stroke-width="0.9"/><ellipse cx="184.4" cy="606.6" rx="12.9" ry="17.3" transform="rotate(15.0 184.4 606.6)" fill="#fff" stroke="#3a3a3a" stroke-width="0.9"/><ellipse cx="184.4" cy="606.6" rx="4.0" ry="5.4" transform="rotate(15.0 184.4 606.6)" fill="#fff" stroke="#3a3a3a" stroke-width="0.9"/>
<path d="M393.3 857.7V836.6Q393.5 830.3 398 830Q403 830 403.3 832.2V851L404 915H398.4V902.1Z" fill="#fff" stroke="none" stroke-width="0" stroke-linecap="round" stroke-linejoin="round" />
<path d="M393.3 857.7V836.6Q393.5 830.3 398 830Q403 830 403.3 832.2V851M393.3 857.7L398.4 902.1V916M396.5 857.7L402.8 902.1L403.6 916M397.7 830.6Q396.8 832 396.5 836.6V857.7" fill="none" stroke="#3a3a3a" stroke-width="0.9" stroke-linecap="round" stroke-linejoin="round" />
<path d="M436.2 880V861Q436.5 854.6 441 854.4Q445.3 854.4 445.5 856.5V875.5L446 905H438.8Z" fill="#fff" stroke="none" stroke-width="0" stroke-linecap="round" stroke-linejoin="round" />
<path d="M436.2 880V861Q436.5 854.6 441 854.4Q445.3 854.4 445.5 856.5V875.5M436.2 880L438.8 905M439.5 880L442.5 905M440.6 855Q439.6 857 439.5 861V880" fill="none" stroke="#3a3a3a" stroke-width="0.9" stroke-linecap="round" stroke-linejoin="round" />
<path d="M479.4 892.9V942.8M509.7 915V946.5" fill="none" stroke="#3a3a3a" stroke-width="0.8" stroke-linecap="round" stroke-linejoin="round" />
<path d="M486 942.8L497.9 933.6L533 952.1Q535 953.5 533.5 955L516.4 963.2Z" fill="#fff" stroke="#3a3a3a" stroke-width="0.9" stroke-linecap="round" stroke-linejoin="round" />
<path d="M509.7 936V946.5" fill="none" stroke="#3a3a3a" stroke-width="0.8" stroke-linecap="round" stroke-linejoin="round" />
<ellipse cx="474.5" cy="981" rx="4" ry="5" fill="#fff" stroke="#333" stroke-width="0.8"/>
<ellipse cx="435.1" cy="949" rx="50.3" ry="45.7" transform="rotate(-20 435.1 949)" fill="#e8ebeb" stroke="#111" stroke-width="1.7"/>
<ellipse cx="524.2" cy="828.6" rx="5.0" ry="7.5" transform="rotate(-20.0 524.2 828.6)" fill="#fff" stroke="#3a3a3a" stroke-width="0.9"/><ellipse cx="523.0" cy="828.1" rx="5.0" ry="7.5" transform="rotate(-20.0 523.0 828.1)" fill="#fff" stroke="#3a3a3a" stroke-width="0.9"/><ellipse cx="523.0" cy="828.1" rx="1.6" ry="2.2" transform="rotate(-20.0 523.0 828.1)" fill="#fff" stroke="#3a3a3a" stroke-width="0.9"/>
<ellipse cx="548.6" cy="814.0" rx="4.2" ry="6.2" transform="rotate(-28.0 548.6 814.0)" fill="#ddd" stroke="#222" stroke-width="0.8"/><ellipse cx="547.1" cy="814.9" rx="4.2" ry="6.2" transform="rotate(-28.0 547.1 814.9)" fill="#ddd" stroke="#222" stroke-width="0.8"/><ellipse cx="545.6" cy="815.7" rx="4.2" ry="6.2" transform="rotate(-28.0 545.6 815.7)" fill="#ddd" stroke="#222" stroke-width="0.8"/><ellipse cx="544.1" cy="816.5" rx="4.2" ry="6.2" transform="rotate(-28.0 544.1 816.5)" fill="#ddd" stroke="#222" stroke-width="0.8"/><ellipse cx="542.6" cy="817.4" rx="4.2" ry="6.2" transform="rotate(-28.0 542.6 817.4)" fill="#ddd" stroke="#222" stroke-width="0.8"/><ellipse cx="542.4" cy="817.5" rx="2.4" ry="3.8" transform="rotate(-28.0 542.4 817.5)" fill="#fff" stroke="#222" stroke-width="0.7"/>
<path d="M573.7 804.0L570.1 808.3L564.6 807.3L562.7 802.0L566.3 797.7L571.8 798.7Z" fill="#fff" stroke="#3a3a3a" stroke-width="0.9" stroke-linecap="round" stroke-linejoin="round" /><ellipse cx="568.2" cy="803.0" rx="3.0" ry="3.4" transform="rotate(0.0 568.2 803.0)" fill="#666" stroke="#222" stroke-width="0.7"/>
<path d="M288.8 894.4Q288.5 885 296.6 885.5L311 888.9L359.9 916.6Q364 920 363.2 925.5L361.5 932.2Q360 936.5 355.5 934.8L347.7 928.8Q342 925.5 336.6 927.3Q332 929 329.9 932.2L326.6 937.7Q324.5 940.5 320.6 940.6L323.3 954.4Q322.5 958.5 317.7 958.8L309.9 958.4Q306 957 304.4 952.2L288.8 903.3Z" fill="#fff" stroke="#3a3a3a" stroke-width="1" stroke-linecap="round" stroke-linejoin="round" />
<path d="M291 894.6Q291 888 297 888L310.5 891L358 918" fill="none" stroke="#3a3a3a" stroke-width="0.7" stroke-linecap="round" stroke-linejoin="round" />
<ellipse cx="309.9" cy="912.2" rx="11.6" ry="13.6" transform="rotate(-25.0 309.9 912.2)" fill="#fff" stroke="#3a3a3a" stroke-width="0.9"/><ellipse cx="311.0" cy="912.6" rx="10.0" ry="12.0" transform="rotate(-25.0 311.0 912.6)" fill="#fff" stroke="#3a3a3a" stroke-width="0.7"/>
<ellipse cx="312.6" cy="948.2" rx="5.4" ry="6.6" transform="rotate(-20.0 312.6 948.2)" fill="#fff" stroke="#3a3a3a" stroke-width="0.9"/><ellipse cx="313.4" cy="948.6" rx="3.9" ry="5.1" transform="rotate(-20.0 313.4 948.6)" fill="#fff" stroke="#3a3a3a" stroke-width="0.7"/>
<path d="M345.5 917.7L357.7 924.4" fill="none" stroke="#3a3a3a" stroke-width="5.2" stroke-linecap="round" stroke-linejoin="round" /><path d="M345.5 917.7L357.7 924.4" fill="none" stroke="#fff" stroke-width="3.4" stroke-linecap="round" stroke-linejoin="round" />
<ellipse cx="295.5" cy="896.2" rx="1.5" ry="2.0" transform="rotate(-20.0 295.5 896.2)" fill="#fff" stroke="#3a3a3a" stroke-width="0.7"/>
<ellipse cx="308.8" cy="895.5" rx="1.5" ry="2.0" transform="rotate(-20.0 308.8 895.5)" fill="#fff" stroke="#3a3a3a" stroke-width="0.7"/>
<ellipse cx="323.3" cy="911.1" rx="1.5" ry="2.0" transform="rotate(-20.0 323.3 911.1)" fill="#fff" stroke="#3a3a3a" stroke-width="0.7"/>
<ellipse cx="295.5" cy="914.4" rx="1.5" ry="2.0" transform="rotate(-20.0 295.5 914.4)" fill="#fff" stroke="#3a3a3a" stroke-width="0.7"/>
<ellipse cx="308.8" cy="931.1" rx="1.5" ry="2.0" transform="rotate(-20.0 308.8 931.1)" fill="#fff" stroke="#3a3a3a" stroke-width="0.7"/>
<ellipse cx="322.8" cy="929.5" rx="1.5" ry="2.0" transform="rotate(-20.0 322.8 929.5)" fill="#fff" stroke="#3a3a3a" stroke-width="0.7"/>
<path d="M292.2 961.5L374.8 914.4" fill="none" stroke="#3a3a3a" stroke-width="0.8" stroke-linecap="round" stroke-linejoin="round" />
<ellipse cx="376.0" cy="914.9" rx="7.0" ry="9.0" transform="rotate(-20.0 376.0 914.9)" fill="#fff" stroke="#3a3a3a" stroke-width="0.9"/><ellipse cx="374.8" cy="914.4" rx="7.0" ry="9.0" transform="rotate(-20.0 374.8 914.4)" fill="#fff" stroke="#3a3a3a" stroke-width="0.9"/><ellipse cx="374.8" cy="914.4" rx="2.0" ry="2.7" transform="rotate(-20.0 374.8 914.4)" fill="#fff" stroke="#3a3a3a" stroke-width="0.9"/>
<ellipse cx="293.4" cy="962.0" rx="8.0" ry="9.5" transform="rotate(-20.0 293.4 962.0)" fill="#fff" stroke="#3a3a3a" stroke-width="0.9"/><ellipse cx="292.2" cy="961.5" rx="8.0" ry="9.5" transform="rotate(-20.0 292.2 961.5)" fill="#fff" stroke="#3a3a3a" stroke-width="0.9"/><ellipse cx="292.2" cy="961.5" rx="2.0" ry="2.7" transform="rotate(-20.0 292.2 961.5)" fill="#fff" stroke="#3a3a3a" stroke-width="0.9"/>
<path d="M260.1 985.3L279.4 973.7L276.0 968.3L256.8 979.9Z" fill="#555" stroke="#222" stroke-width="0.8" stroke-linecap="round" stroke-linejoin="round" /><path d="M261.5 984.5L258.2 979.0M262.9 983.7L259.6 978.2M264.2 982.9L260.9 977.4M265.6 982.0L262.3 976.6M267.0 981.2L263.7 975.7M268.4 980.4L265.1 974.9M269.7 979.5L266.4 974.1M271.1 978.7L267.8 973.2M272.5 977.9L269.2 972.4M273.9 977.1L270.6 971.6M275.2 976.2L271.9 970.7M276.6 975.4L273.3 969.9M278.0 974.6L274.7 969.1" fill="none" stroke="#2b2b2b" stroke-width="0.5" stroke-linecap="round" stroke-linejoin="round" /><ellipse cx="277.7" cy="971.0" rx="1.4" ry="3.2" transform="rotate(-31.1 277.7 971.0)" fill="#fff" stroke="#3a3a3a" stroke-width="0.7"/><path d="M260.9 984.3L258.3 989.8L252.9 989.9L250.1 984.5L252.7 979.0L258.1 978.9Z" fill="#fff" stroke="#3a3a3a" stroke-width="0.9" stroke-linecap="round" stroke-linejoin="round" /><path d="M258.7 985.6L256.1 991.1L250.8 991.2L248.0 985.8L250.6 980.3L255.9 980.2Z" fill="#fff" stroke="#3a3a3a" stroke-width="0.9" stroke-linecap="round" stroke-linejoin="round" />
<path d="M777.7 964.4Q781 961.8 784.4 962.8L808.8 967.7Q817 967.5 824.4 962.2L839.9 953.3L897.7 916.6Q903 914 907 917.5Q911 922 909.9 926.5Q909.3 929 907.7 931.1L844.4 978.8Q837 985 828.8 989.9L750 1019.9L742.2 1012.1L743.3 989.9Q744 985.5 750 983.3Z" fill="#fff" stroke="#3a3a3a" stroke-width="1" stroke-linecap="round" stroke-linejoin="round" />
<path d="M752.2 986.6L781.1 966.6Q783 965.6 786 966.2L808.8 970.4Q818 970.2 826.6 964.4L895.4 920" fill="none" stroke="#3a3a3a" stroke-width="0.8" stroke-linecap="round" stroke-linejoin="round" />
<path d="M748.9 986V1018.8M743.3 989.9L748.9 986" fill="none" stroke="#3a3a3a" stroke-width="0.8" stroke-linecap="round" stroke-linejoin="round" />
<path d="M884.5 924Q886.5 916.5 893 917.5M861.5 938Q863.5 930.5 870.5 931.5" fill="none" stroke="#3a3a3a" stroke-width="0.8" stroke-linecap="round" stroke-linejoin="round" />
<ellipse cx="900.3" cy="931.1" rx="6.7" ry="8.6" transform="rotate(40.0 900.3 931.1)" fill="#fff" stroke="#3a3a3a" stroke-width="0.9"/><ellipse cx="900.6" cy="931.4" rx="5.0" ry="6.6" transform="rotate(40.0 900.6 931.4)" fill="#fff" stroke="#3a3a3a" stroke-width="0.7"/><ellipse cx="900.3" cy="931.6" rx="2.6" ry="3.6" transform="rotate(40.0 900.3 931.6)" fill="#fff" stroke="#3a3a3a" stroke-width="0.8"/>
<ellipse cx="878.1" cy="945.1" rx="6.7" ry="8.6" transform="rotate(40.0 878.1 945.1)" fill="#fff" stroke="#3a3a3a" stroke-width="0.9"/><ellipse cx="878.4" cy="945.4" rx="5.0" ry="6.6" transform="rotate(40.0 878.4 945.4)" fill="#fff" stroke="#3a3a3a" stroke-width="0.7"/><ellipse cx="878.1" cy="945.6" rx="2.6" ry="3.6" transform="rotate(40.0 878.1 945.6)" fill="#fff" stroke="#3a3a3a" stroke-width="0.8"/>
<ellipse cx="837.3" cy="975.5" rx="3.2" ry="4.8" transform="rotate(35.0 837.3 975.5)" fill="#fff" stroke="#3a3a3a" stroke-width="0.8"/><ellipse cx="813.9" cy="989.3" rx="3.2" ry="4.8" transform="rotate(35.0 813.9 989.3)" fill="#fff" stroke="#3a3a3a" stroke-width="0.8"/>
<ellipse cx="937.7" cy="956.5" rx="7.1" ry="9.3" transform="rotate(30.0 937.7 956.5)" fill="#fff" stroke="#3a3a3a" stroke-width="0.9"/><ellipse cx="936.5" cy="956.0" rx="7.1" ry="9.3" transform="rotate(30.0 936.5 956.0)" fill="#fff" stroke="#3a3a3a" stroke-width="0.9"/><ellipse cx="936.5" cy="956.0" rx="2.6" ry="3.5" transform="rotate(30.0 936.5 956.0)" fill="#fff" stroke="#3a3a3a" stroke-width="0.9"/>
<g transform="translate(960.3 974.0) rotate(25.0)"><path d="M0 -8.7C-6.8 -4.6 -7.6 6.8 0.0 7.6C9.1 6.8 6.8 -5.3 0 -8.7Z" fill="#fff" stroke="#3a3a3a" stroke-width="0.9" stroke-linecap="round" stroke-linejoin="round" /><ellipse cx="0" cy="1" rx="3.2" ry="4.2" fill="#fff" stroke="#3a3a3a" stroke-width="0.8"/></g>
<path d="M1009.1 1000.9L989.5 986.0L983.5 994.0L1003.1 1008.9Z" fill="#555" stroke="#222" stroke-width="0.8" stroke-linecap="round" stroke-linejoin="round" /><path d="M1007.8 999.9L1001.8 1007.9M1006.5 998.9L1000.5 1006.9M1005.2 997.9L999.2 1005.9M1003.9 996.9L997.9 1004.9M1002.6 996.0L996.6 1003.9M1001.3 995.0L995.2 1002.9M1000.0 994.0L993.9 1001.9M998.7 993.0L992.6 1000.9M997.4 992.0L991.3 999.9M996.1 991.0L990.0 998.9M994.8 990.0L988.7 998.0M993.4 989.0L987.4 997.0M992.1 988.0L986.1 996.0M990.8 987.0L984.8 995.0" fill="none" stroke="#2b2b2b" stroke-width="0.5" stroke-linecap="round" stroke-linejoin="round" /><ellipse cx="986.5" cy="990.0" rx="2.2" ry="5.0" transform="rotate(-142.8 986.5 990.0)" fill="#fff" stroke="#3a3a3a" stroke-width="0.7"/><path d="M1007.0 1000.0L1014.1 1001.0L1016.9 1008.8L1012.6 1015.4L1005.5 1014.4L1002.7 1006.6Z" fill="#fff" stroke="#3a3a3a" stroke-width="0.9" stroke-linecap="round" stroke-linejoin="round" /><path d="M1009.0 1001.5L1016.1 1002.5L1018.9 1010.3L1014.6 1017.0L1007.5 1015.9L1004.7 1008.2Z" fill="#fff" stroke="#3a3a3a" stroke-width="0.9" stroke-linecap="round" stroke-linejoin="round" />
<ellipse cx="874.0" cy="1000.9" rx="12.9" ry="17.3" transform="rotate(30.0 874.0 1000.9)" fill="#fff" stroke="#3a3a3a" stroke-width="0.9"/><ellipse cx="872.8" cy="1000.4" rx="12.9" ry="17.3" transform="rotate(30.0 872.8 1000.4)" fill="#fff" stroke="#3a3a3a" stroke-width="0.9"/><ellipse cx="872.8" cy="1000.4" rx="4.0" ry="5.4" transform="rotate(30.0 872.8 1000.4)" fill="#fff" stroke="#3a3a3a" stroke-width="0.9"/>
<g transform="translate(896.5 1018.4) rotate(25.0)"><path d="M0 -8.7C-6.8 -4.6 -7.6 6.8 0.0 7.6C9.1 6.8 6.8 -5.3 0 -8.7Z" fill="#fff" stroke="#3a3a3a" stroke-width="0.9" stroke-linecap="round" stroke-linejoin="round" /><ellipse cx="0" cy="1" rx="3.2" ry="4.2" fill="#fff" stroke="#3a3a3a" stroke-width="0.8"/></g>
<path d="M945.8 1044.9L926.2 1030.3L920.2 1038.3L939.8 1052.9Z" fill="#555" stroke="#222" stroke-width="0.8" stroke-linecap="round" stroke-linejoin="round" /><path d="M944.5 1044.0L938.5 1052.0M943.2 1043.0L937.2 1051.0M941.9 1042.0L935.9 1050.0M940.6 1041.0L934.6 1049.0M939.3 1040.1L933.3 1048.1M938.0 1039.1L932.0 1047.1M936.6 1038.1L930.7 1046.1M935.3 1037.1L929.4 1045.1M934.0 1036.1L928.0 1044.2M932.7 1035.2L926.7 1043.2M931.4 1034.2L925.4 1042.2M930.1 1033.2L924.1 1041.2M928.8 1032.2L922.8 1040.3M927.5 1031.3L921.5 1039.3" fill="none" stroke="#2b2b2b" stroke-width="0.5" stroke-linecap="round" stroke-linejoin="round" /><ellipse cx="923.2" cy="1034.3" rx="2.2" ry="5.0" transform="rotate(-143.2 923.2 1034.3)" fill="#fff" stroke="#3a3a3a" stroke-width="0.7"/><path d="M943.7 1044.0L950.8 1045.0L953.6 1052.7L949.3 1059.4L942.2 1058.4L939.4 1050.7Z" fill="#fff" stroke="#3a3a3a" stroke-width="0.9" stroke-linecap="round" stroke-linejoin="round" /><path d="M945.7 1045.5L952.8 1046.5L955.6 1054.2L951.3 1060.9L944.2 1059.9L941.4 1052.2Z" fill="#fff" stroke="#3a3a3a" stroke-width="0.9" stroke-linecap="round" stroke-linejoin="round" />
<path d="M412 743H462.3V795" fill="none" stroke="#222" stroke-width="1" stroke-linecap="round" stroke-linejoin="round" />
<path d="M457.6 792.5H467.4L463.6 818Z" fill="#111"/>
<path d="M167.8 904.4H218.5L262 911" fill="none" stroke="#222" stroke-width="0.9" stroke-linecap="round" stroke-linejoin="round" />
<path d="M259.5 906.8L285.2 916.3L259 915.5Z" fill="#111"/>
<path d="M454.7 1027.7L507 973" fill="none" stroke="#222" stroke-width="0.8" stroke-linecap="round" stroke-linejoin="round" />
<path d="M512.3 967.6L508.3 977.3L503.3 972.5Z" fill="#111"/>
<text x="424.0" y="734.0" font-size="52.5" fill="#1a1a1a" textLength="38.0" lengthAdjust="spacingAndGlyphs" >A</text>
<text x="177.0" y="898.4" font-size="54.0" fill="#1a1a1a" textLength="27.5" lengthAdjust="spacingAndGlyphs" class="b" >B</text>
<text x="376.7" y="653.2" font-size="43.5" fill="#1a1a1a" textLength="245.0" lengthAdjust="spacingAndGlyphs" >M12x35   2x</text>
<text x="672.0" y="892.0" font-size="43.5" fill="#1a1a1a" textLength="245.5" lengthAdjust="spacingAndGlyphs" >M12x35   2x</text>
<rect x="349.5" y="1011" width="105.2" height="54" rx="4.5" fill="#fff" stroke="#444" stroke-width="0.9"/><rect x="351.7" y="1013.2" width="100.8" height="49.6" rx="3" fill="none" stroke="#444" stroke-width="0.7"/>
<text x="355.5" y="1023.2" font-size="6.6" fill="#1a1a1a" textLength="50.0" lengthAdjust="spacingAndGlyphs" >Approval Number</text>
<text x="412.5" y="1023.2" font-size="6.6" fill="#1a1a1a" textLength="14.0" lengthAdjust="spacingAndGlyphs" >Class</text>
<rect x="429.9" y="1018.3" width="20" height="6" fill="none" stroke="#444" stroke-width="0.7"/><text x="431.3" y="1023.4" font-size="5.6" fill="#1a1a1a" textLength="17.0" lengthAdjust="spacingAndGlyphs" >A50-X</text>
<rect x="358.4" y="1028.1" width="18.2" height="8.9" fill="none" stroke="#444" stroke-width="0.7"/><rect x="377.7" y="1028.1" width="35.5" height="8.9" fill="none" stroke="#444" stroke-width="0.7"/>
<text x="360.2" y="1035.6" font-size="8.6" fill="#222" textLength="14.6" lengthAdjust="spacingAndGlyphs" >Exx</text><text x="379.5" y="1035.6" font-size="8.6" fill="#222" textLength="31.8" lengthAdjust="spacingAndGlyphs" >00-xxxx</text>
<text x="355.5" y="1044.9" font-size="6.2" fill="#1a1a1a" textLength="12.6" lengthAdjust="spacingAndGlyphs" >Type</text><text x="399.9" y="1044.9" font-size="6.2" fill="#1a1a1a" textLength="28.2" lengthAdjust="spacingAndGlyphs" >D-Value D</text><text x="442.0" y="1044.9" font-size="6.2" fill="#1a1a1a" textLength="7.8" lengthAdjust="spacingAndGlyphs" >kN</text>
<text x="355.5" y="1055.6" font-size="6.2" fill="#1a1a1a" textLength="15.5" lengthAdjust="spacingAndGlyphs" >Series</text><text x="399.9" y="1055.6" font-size="6.2" fill="#1a1a1a" textLength="17.8" lengthAdjust="spacingAndGlyphs" >Vert.ld</text><text x="424.6" y="1055.6" font-size="6.2" fill="#1a1a1a" >S</text><text x="442.0" y="1055.6" font-size="6.2" fill="#1a1a1a" textLength="7.8" lengthAdjust="spacingAndGlyphs" >kN</text>
<rect x="373.2" y="1039.4" width="23.4" height="6" fill="none" stroke="#444" stroke-width="0.7"/>
<rect x="429.9" y="1039.4" width="10.0" height="6" fill="none" stroke="#444" stroke-width="0.7"/>
<rect x="373.2" y="1050.3" width="23.4" height="6" fill="none" stroke="#444" stroke-width="0.7"/>
<rect x="429.9" y="1050.3" width="10.0" height="6" fill="none" stroke="#444" stroke-width="0.7"/>
<!-- 04_right.py -->
<path d="M741 581.9Q741.5 558 762.6 557.8L859 556.9Q870 557 878.3 562.6L950.6 613.2Q968 624 989.1 627.7Q1010 631.5 1032.5 631.1L1239.7 622.9Q1253 623 1261.4 630.1Q1273.5 640 1273.4 651.8Q1273 668 1261.4 677.3Q1254 683.5 1244.5 685.5L1037.3 714.4Q1018 719.5 998.8 719.2Q980 718.5 960.2 712L762.6 666.2Q752 663 745.8 656.6Q741 650 741 639.7Z" fill="none" stroke="#0d0d0d" stroke-width="3.3" stroke-linejoin="round"/>
<circle cx="965.0" cy="682.1" r="10.3" fill="#fff" stroke="#0d0d0d" stroke-width="6"/><path d="M961.0 682.1h8M965.0 678.1v8" stroke="#0d0d0d" stroke-width="1.6"/>
<circle cx="1041.2" cy="681.7" r="10.3" fill="#fff" stroke="#0d0d0d" stroke-width="6"/><path d="M1037.2 681.7h8M1041.2 677.7v8" stroke="#0d0d0d" stroke-width="1.6"/>
<circle cx="1165.5" cy="654.2" r="10.3" fill="#fff" stroke="#0d0d0d" stroke-width="6"/><path d="M1161.5 654.2h8M1165.5 650.2v8" stroke="#0d0d0d" stroke-width="1.6"/>
<circle cx="1241.1" cy="653.2" r="10.3" fill="#fff" stroke="#0d0d0d" stroke-width="6"/><path d="M1237.1 653.2h8M1241.1 649.2v8" stroke="#0d0d0d" stroke-width="1.6"/>
<path d="M957.8 561.7H1084L1148 634" fill="none" stroke="#0d0d0d" stroke-width="1.5"/><path d="M1150.8 637.6L1143.8 633L1148.6 629.2Z" fill="#0d0d0d"/>
<path d="M1217.5 626L1225.5 628.5L1223.5 635Z" fill="#0d0d0d"/>
<path d="M790.6 765H915.4L961.5 699" fill="none" stroke="#0d0d0d" stroke-width="1.5"/><path d="M964.2 694.8L963.6 703.5L957.8 699.6Z" fill="#0d0d0d"/>
<text x="962.6" y="541.0" font-size="12.6" fill="#111" textLength="103.6" lengthAdjust="spacingAndGlyphs" >VW Polo 2017 &gt;&gt;</text>
<text x="962.6" y="554.6" font-size="12.6" fill="#111" textLength="109.4" lengthAdjust="spacingAndGlyphs" >Seat Ibiza 2017 &gt;&gt;</text>
<text x="789.1" y="742.4" font-size="14.2" fill="#111" textLength="117.0" lengthAdjust="spacingAndGlyphs" >VW Polo 2017 &gt;&gt;</text>
<text x="788.2" y="758.8" font-size="14.2" fill="#111" textLength="124.0" lengthAdjust="spacingAndGlyphs" >Seat Ibiza 2017 &gt;&gt;</text>
<rect x="991.6" y="1064.6" width="132.6" height="227.7" rx="23" fill="#1b1b1b"/>
<rect x="993.9" y="1096.4" width="128.3" height="163.2" fill="#fff"/>
<path d="M1045 1081.6H1071.7" stroke="#fff" stroke-width="2.6" stroke-linecap="round"/><circle cx="1037" cy="1081.6" r="1.9" fill="#fff"/>
<circle cx="1058.3" cy="1274.5" r="9.8" fill="none" stroke="#fff" stroke-width="3.2"/>
<path d="M1029.82 1117.20h2.66v2.66h-2.66zM1037.81 1117.20h2.66v2.66h-2.66zM1040.48 1117.20h2.66v2.66h-2.66zM1053.80 1117.20h2.66v2.66h-2.66zM1056.47 1117.20h2.66v2.66h-2.66zM1059.13 1117.20h2.66v2.66h-2.66zM1064.46 1117.20h2.66v2.66h-2.66zM1069.79 1117.20h2.66v2.66h-2.66zM1072.46 1117.20h2.66v2.66h-2.66zM1075.12 1117.20h2.66v2.66h-2.66zM1032.48 1119.86h2.66v2.66h-2.66zM1035.15 1119.86h2.66v2.66h-2.66zM1037.81 1119.86h2.66v2.66h-2.66zM1040.48 1119.86h2.66v2.66h-2.66zM1045.81 1119.86h2.66v2.66h-2.66zM1048.47 1119.86h2.66v2.66h-2.66zM1053.80 1119.86h2.66v2.66h-2.66zM1059.13 1119.86h2.66v2.66h-2.66zM1064.46 1119.86h2.66v2.66h-2.66zM1067.13 1119.86h2.66v2.66h-2.66zM1069.79 1119.86h2.66v2.66h-2.66zM1072.46 1119.86h2.66v2.66h-2.66zM1077.79 1119.86h2.66v2.66h-2.66zM1083.12 1119.86h2.66v2.66h-2.66zM1045.81 1122.53h2.66v2.66h-2.66zM1048.47 1122.53h2.66v2.66h-2.66zM1053.80 1122.53h2.66v2.66h-2.66zM1061.80 1122.53h2.66v2.66h-2.66zM1064.46 1122.53h2.66v2.66h-2.66zM1067.13 1122.53h2.66v2.66h-2.66zM1069.79 1122.53h2.66v2.66h-2.66zM1075.12 1122.53h2.66v2.66h-2.66zM1077.79 1122.53h2.66v2.66h-2.66zM1080.45 1122.53h2.66v2.66h-2.66zM1032.48 1125.19h2.66v2.66h-2.66zM1035.15 1125.19h2.66v2.66h-2.66zM1043.14 1125.19h2.66v2.66h-2.66zM1053.80 1125.19h2.66v2.66h-2.66zM1056.47 1125.19h2.66v2.66h-2.66zM1059.13 1125.19h2.66v2.66h-2.66zM1064.46 1125.19h2.66v2.66h-2.66zM1069.79 1125.19h2.66v2.66h-2.66zM1072.46 1125.19h2.66v2.66h-2.66zM1075.12 1125.19h2.66v2.66h-2.66zM1083.12 1125.19h2.66v2.66h-2.66zM1040.48 1127.86h2.66v2.66h-2.66zM1053.80 1127.86h2.66v2.66h-2.66zM1056.47 1127.86h2.66v2.66h-2.66zM1059.13 1127.86h2.66v2.66h-2.66zM1064.46 1127.86h2.66v2.66h-2.66zM1067.13 1127.86h2.66v2.66h-2.66zM1075.12 1127.86h2.66v2.66h-2.66zM1080.45 1127.86h2.66v2.66h-2.66zM1083.12 1127.86h2.66v2.66h-2.66zM1029.82 1130.52h2.66v2.66h-2.66zM1032.48 1130.52h2.66v2.66h-2.66zM1035.15 1130.52h2.66v2.66h-2.66zM1037.81 1130.52h2.66v2.66h-2.66zM1040.48 1130.52h2.66v2.66h-2.66zM1051.14 1130.52h2.66v2.66h-2.66zM1053.80 1130.52h2.66v2.66h-2.66zM1064.46 1130.52h2.66v2.66h-2.66zM1067.13 1130.52h2.66v2.66h-2.66zM1080.45 1130.52h2.66v2.66h-2.66zM1032.48 1133.19h2.66v2.66h-2.66zM1037.81 1133.19h2.66v2.66h-2.66zM1043.14 1133.19h2.66v2.66h-2.66zM1051.14 1133.19h2.66v2.66h-2.66zM1064.46 1133.19h2.66v2.66h-2.66zM1067.13 1133.19h2.66v2.66h-2.66zM1075.12 1133.19h2.66v2.66h-2.66zM1077.79 1133.19h2.66v2.66h-2.66zM1080.45 1133.19h2.66v2.66h-2.66zM1083.12 1133.19h2.66v2.66h-2.66zM1029.82 1135.85h2.66v2.66h-2.66zM1032.48 1135.85h2.66v2.66h-2.66zM1040.48 1135.85h2.66v2.66h-2.66zM1045.81 1135.85h2.66v2.66h-2.66zM1048.47 1135.85h2.66v2.66h-2.66zM1051.14 1135.85h2.66v2.66h-2.66zM1053.80 1135.85h2.66v2.66h-2.66zM1056.47 1135.85h2.66v2.66h-2.66zM1059.13 1135.85h2.66v2.66h-2.66zM1067.13 1135.85h2.66v2.66h-2.66zM1080.45 1135.85h2.66v2.66h-2.66zM1083.12 1135.85h2.66v2.66h-2.66zM1008.50 1138.52h2.66v2.66h-2.66zM1013.83 1138.52h2.66v2.66h-2.66zM1019.16 1138.52h2.66v2.66h-2.66zM1024.49 1138.52h2.66v2.66h-2.66zM1027.15 1138.52h2.66v2.66h-2.66zM1029.82 1138.52h2.66v2.66h-2.66zM1032.48 1138.52h2.66v2.66h-2.66zM1037.81 1138.52h2.66v2.66h-2.66zM1048.47 1138.52h2.66v2.66h-2.66zM1061.80 1138.52h2.66v2.66h-2.66zM1072.46 1138.52h2.66v2.66h-2.66zM1080.45 1138.52h2.66v2.66h-2.66zM1083.12 1138.52h2.66v2.66h-2.66zM1088.45 1138.52h2.66v2.66h-2.66zM1091.11 1138.52h2.66v2.66h-2.66zM1093.78 1138.52h2.66v2.66h-2.66zM1101.77 1138.52h2.66v2.66h-2.66zM1008.50 1141.18h2.66v2.66h-2.66zM1013.83 1141.18h2.66v2.66h-2.66zM1019.16 1141.18h2.66v2.66h-2.66zM1021.82 1141.18h2.66v2.66h-2.66zM1024.49 1141.18h2.66v2.66h-2.66zM1027.15 1141.18h2.66v2.66h-2.66zM1029.82 1141.18h2.66v2.66h-2.66zM1032.48 1141.18h2.66v2.66h-2.66zM1043.14 1141.18h2.66v2.66h-2.66zM1045.81 1141.18h2.66v2.66h-2.66zM1048.47 1141.18h2.66v2.66h-2.66zM1051.14 1141.18h2.66v2.66h-2.66zM1059.13 1141.18h2.66v2.66h-2.66zM1061.80 1141.18h2.66v2.66h-2.66zM1064.46 1141.18h2.66v2.66h-2.66zM1091.11 1141.18h2.66v2.66h-2.66zM1096.44 1141.18h2.66v2.66h-2.66zM1011.16 1143.85h2.66v2.66h-2.66zM1013.83 1143.85h2.66v2.66h-2.66zM1016.49 1143.85h2.66v2.66h-2.66zM1019.16 1143.85h2.66v2.66h-2.66zM1021.82 1143.85h2.66v2.66h-2.66zM1027.15 1143.85h2.66v2.66h-2.66zM1029.82 1143.85h2.66v2.66h-2.66zM1037.81 1143.85h2.66v2.66h-2.66zM1040.48 1143.85h2.66v2.66h-2.66zM1048.47 1143.85h2.66v2.66h-2.66zM1051.14 1143.85h2.66v2.66h-2.66zM1059.13 1143.85h2.66v2.66h-2.66zM1064.46 1143.85h2.66v2.66h-2.66zM1067.13 1143.85h2.66v2.66h-2.66zM1072.46 1143.85h2.66v2.66h-2.66zM1077.79 1143.85h2.66v2.66h-2.66zM1083.12 1143.85h2.66v2.66h-2.66zM1085.78 1143.85h2.66v2.66h-2.66zM1091.11 1143.85h2.66v2.66h-2.66zM1093.78 1143.85h2.66v2.66h-2.66zM1099.11 1143.85h2.66v2.66h-2.66zM1101.77 1143.85h2.66v2.66h-2.66zM1104.44 1143.85h2.66v2.66h-2.66zM1008.50 1146.51h2.66v2.66h-2.66zM1011.16 1146.51h2.66v2.66h-2.66zM1016.49 1146.51h2.66v2.66h-2.66zM1027.15 1146.51h2.66v2.66h-2.66zM1032.48 1146.51h2.66v2.66h-2.66zM1040.48 1146.51h2.66v2.66h-2.66zM1043.14 1146.51h2.66v2.66h-2.66zM1048.47 1146.51h2.66v2.66h-2.66zM1051.14 1146.51h2.66v2.66h-2.66zM1053.80 1146.51h2.66v2.66h-2.66zM1059.13 1146.51h2.66v2.66h-2.66zM1061.80 1146.51h2.66v2.66h-2.66zM1072.46 1146.51h2.66v2.66h-2.66zM1075.12 1146.51h2.66v2.66h-2.66zM1077.79 1146.51h2.66v2.66h-2.66zM1083.12 1146.51h2.66v2.66h-2.66zM1096.44 1146.51h2.66v2.66h-2.66zM1101.77 1146.51h2.66v2.66h-2.66zM1013.83 1149.18h2.66v2.66h-2.66zM1016.49 1149.18h2.66v2.66h-2.66zM1027.15 1149.18h2.66v2.66h-2.66zM1032.48 1149.18h2.66v2.66h-2.66zM1035.15 1149.18h2.66v2.66h-2.66zM1037.81 1149.18h2.66v2.66h-2.66zM1040.48 1149.18h2.66v2.66h-2.66zM1048.47 1149.18h2.66v2.66h-2.66zM1051.14 1149.18h2.66v2.66h-2.66zM1059.13 1149.18h2.66v2.66h-2.66zM1061.80 1149.18h2.66v2.66h-2.66zM1064.46 1149.18h2.66v2.66h-2.66zM1067.13 1149.18h2.66v2.66h-2.66zM1069.79 1149.18h2.66v2.66h-2.66zM1077.79 1149.18h2.66v2.66h-2.66zM1080.45 1149.18h2.66v2.66h-2.66zM1088.45 1149.18h2.66v2.66h-2.66zM1099.11 1149.18h2.66v2.66h-2.66zM1104.44 1149.18h2.66v2.66h-2.66zM1008.50 1151.84h2.66v2.66h-2.66zM1011.16 1151.84h2.66v2.66h-2.66zM1019.16 1151.84h2.66v2.66h-2.66zM1024.49 1151.84h2.66v2.66h-2.66zM1027.15 1151.84h2.66v2.66h-2.66zM1040.48 1151.84h2.66v2.66h-2.66zM1056.47 1151.84h2.66v2.66h-2.66zM1067.13 1151.84h2.66v2.66h-2.66zM1069.79 1151.84h2.66v2.66h-2.66zM1083.12 1151.84h2.66v2.66h-2.66zM1093.78 1151.84h2.66v2.66h-2.66zM1011.16 1154.51h2.66v2.66h-2.66zM1013.83 1154.51h2.66v2.66h-2.66zM1016.49 1154.51h2.66v2.66h-2.66zM1019.16 1154.51h2.66v2.66h-2.66zM1027.15 1154.51h2.66v2.66h-2.66zM1029.82 1154.51h2.66v2.66h-2.66zM1032.48 1154.51h2.66v2.66h-2.66zM1035.15 1154.51h2.66v2.66h-2.66zM1040.48 1154.51h2.66v2.66h-2.66zM1045.81 1154.51h2.66v2.66h-2.66zM1048.47 1154.51h2.66v2.66h-2.66zM1061.80 1154.51h2.66v2.66h-2.66zM1064.46 1154.51h2.66v2.66h-2.66zM1067.13 1154.51h2.66v2.66h-2.66zM1080.45 1154.51h2.66v2.66h-2.66zM1083.12 1154.51h2.66v2.66h-2.66zM1085.78 1154.51h2.66v2.66h-2.66zM1088.45 1154.51h2.66v2.66h-2.66zM1091.11 1154.51h2.66v2.66h-2.66zM1096.44 1154.51h2.66v2.66h-2.66zM1099.11 1154.51h2.66v2.66h-2.66zM1019.16 1157.17h2.66v2.66h-2.66zM1021.82 1157.17h2.66v2.66h-2.66zM1024.49 1157.17h2.66v2.66h-2.66zM1037.81 1157.17h2.66v2.66h-2.66zM1040.48 1157.17h2.66v2.66h-2.66zM1048.47 1157.17h2.66v2.66h-2.66zM1051.14 1157.17h2.66v2.66h-2.66zM1053.80 1157.17h2.66v2.66h-2.66zM1059.13 1157.17h2.66v2.66h-2.66zM1061.80 1157.17h2.66v2.66h-2.66zM1064.46 1157.17h2.66v2.66h-2.66zM1080.45 1157.17h2.66v2.66h-2.66zM1083.12 1157.17h2.66v2.66h-2.66zM1093.78 1157.17h2.66v2.66h-2.66zM1101.77 1157.17h2.66v2.66h-2.66zM1104.44 1157.17h2.66v2.66h-2.66zM1011.16 1159.84h2.66v2.66h-2.66zM1016.49 1159.84h2.66v2.66h-2.66zM1021.82 1159.84h2.66v2.66h-2.66zM1024.49 1159.84h2.66v2.66h-2.66zM1027.15 1159.84h2.66v2.66h-2.66zM1029.82 1159.84h2.66v2.66h-2.66zM1035.15 1159.84h2.66v2.66h-2.66zM1040.48 1159.84h2.66v2.66h-2.66zM1045.81 1159.84h2.66v2.66h-2.66zM1048.47 1159.84h2.66v2.66h-2.66zM1069.79 1159.84h2.66v2.66h-2.66zM1077.79 1159.84h2.66v2.66h-2.66zM1085.78 1159.84h2.66v2.66h-2.66zM1093.78 1159.84h2.66v2.66h-2.66zM1096.44 1159.84h2.66v2.66h-2.66zM1104.44 1159.84h2.66v2.66h-2.66zM1011.16 1162.50h2.66v2.66h-2.66zM1016.49 1162.50h2.66v2.66h-2.66zM1021.82 1162.50h2.66v2.66h-2.66zM1024.49 1162.50h2.66v2.66h-2.66zM1032.48 1162.50h2.66v2.66h-2.66zM1035.15 1162.50h2.66v2.66h-2.66zM1037.81 1162.50h2.66v2.66h-2.66zM1043.14 1162.50h2.66v2.66h-2.66zM1045.81 1162.50h2.66v2.66h-2.66zM1048.47 1162.50h2.66v2.66h-2.66zM1064.46 1162.50h2.66v2.66h-2.66zM1067.13 1162.50h2.66v2.66h-2.66zM1072.46 1162.50h2.66v2.66h-2.66zM1075.12 1162.50h2.66v2.66h-2.66zM1080.45 1162.50h2.66v2.66h-2.66zM1088.45 1162.50h2.66v2.66h-2.66zM1091.11 1162.50h2.66v2.66h-2.66zM1096.44 1162.50h2.66v2.66h-2.66zM1099.11 1162.50h2.66v2.66h-2.66zM1013.83 1165.17h2.66v2.66h-2.66zM1016.49 1165.17h2.66v2.66h-2.66zM1019.16 1165.17h2.66v2.66h-2.66zM1024.49 1165.17h2.66v2.66h-2.66zM1029.82 1165.17h2.66v2.66h-2.66zM1032.48 1165.17h2.66v2.66h-2.66zM1043.14 1165.17h2.66v2.66h-2.66zM1048.47 1165.17h2.66v2.66h-2.66zM1064.46 1165.17h2.66v2.66h-2.66zM1072.46 1165.17h2.66v2.66h-2.66zM1077.79 1165.17h2.66v2.66h-2.66zM1080.45 1165.17h2.66v2.66h-2.66zM1083.12 1165.17h2.66v2.66h-2.66zM1085.78 1165.17h2.66v2.66h-2.66zM1093.78 1165.17h2.66v2.66h-2.66zM1096.44 1165.17h2.66v2.66h-2.66zM1099.11 1165.17h2.66v2.66h-2.66zM1104.44 1165.17h2.66v2.66h-2.66zM1008.50 1167.83h2.66v2.66h-2.66zM1011.16 1167.83h2.66v2.66h-2.66zM1016.49 1167.83h2.66v2.66h-2.66zM1024.49 1167.83h2.66v2.66h-2.66zM1029.82 1167.83h2.66v2.66h-2.66zM1032.48 1167.83h2.66v2.66h-2.66zM1035.15 1167.83h2.66v2.66h-2.66zM1037.81 1167.83h2.66v2.66h-2.66zM1040.48 1167.83h2.66v2.66h-2.66zM1043.14 1167.83h2.66v2.66h-2.66zM1048.47 1167.83h2.66v2.66h-2.66zM1067.13 1167.83h2.66v2.66h-2.66zM1072.46 1167.83h2.66v2.66h-2.66zM1080.45 1167.83h2.66v2.66h-2.66zM1083.12 1167.83h2.66v2.66h-2.66zM1093.78 1167.83h2.66v2.66h-2.66zM1096.44 1167.83h2.66v2.66h-2.66zM1104.44 1167.83h2.66v2.66h-2.66zM1021.82 1170.50h2.66v2.66h-2.66zM1027.15 1170.50h2.66v2.66h-2.66zM1029.82 1170.50h2.66v2.66h-2.66zM1035.15 1170.50h2.66v2.66h-2.66zM1037.81 1170.50h2.66v2.66h-2.66zM1043.14 1170.50h2.66v2.66h-2.66zM1045.81 1170.50h2.66v2.66h-2.66zM1069.79 1170.50h2.66v2.66h-2.66zM1083.12 1170.50h2.66v2.66h-2.66zM1088.45 1170.50h2.66v2.66h-2.66zM1091.11 1170.50h2.66v2.66h-2.66zM1093.78 1170.50h2.66v2.66h-2.66zM1096.44 1170.50h2.66v2.66h-2.66zM1099.11 1170.50h2.66v2.66h-2.66zM1101.77 1170.50h2.66v2.66h-2.66zM1104.44 1170.50h2.66v2.66h-2.66zM1011.16 1173.16h2.66v2.66h-2.66zM1016.49 1173.16h2.66v2.66h-2.66zM1021.82 1173.16h2.66v2.66h-2.66zM1024.49 1173.16h2.66v2.66h-2.66zM1029.82 1173.16h2.66v2.66h-2.66zM1032.48 1173.16h2.66v2.66h-2.66zM1037.81 1173.16h2.66v2.66h-2.66zM1040.48 1173.16h2.66v2.66h-2.66zM1051.14 1173.16h2.66v2.66h-2.66zM1056.47 1173.16h2.66v2.66h-2.66zM1064.46 1173.16h2.66v2.66h-2.66zM1067.13 1173.16h2.66v2.66h-2.66zM1072.46 1173.16h2.66v2.66h-2.66zM1080.45 1173.16h2.66v2.66h-2.66zM1085.78 1173.16h2.66v2.66h-2.66zM1088.45 1173.16h2.66v2.66h-2.66zM1091.11 1173.16h2.66v2.66h-2.66zM1093.78 1173.16h2.66v2.66h-2.66zM1096.44 1173.16h2.66v2.66h-2.66zM1099.11 1173.16h2.66v2.66h-2.66zM1104.44 1173.16h2.66v2.66h-2.66zM1021.82 1175.83h2.66v2.66h-2.66zM1027.15 1175.83h2.66v2.66h-2.66zM1032.48 1175.83h2.66v2.66h-2.66zM1035.15 1175.83h2.66v2.66h-2.66zM1037.81 1175.83h2.66v2.66h-2.66zM1040.48 1175.83h2.66v2.66h-2.66zM1053.80 1175.83h2.66v2.66h-2.66zM1056.47 1175.83h2.66v2.66h-2.66zM1059.13 1175.83h2.66v2.66h-2.66zM1061.80 1175.83h2.66v2.66h-2.66zM1069.79 1175.83h2.66v2.66h-2.66zM1077.79 1175.83h2.66v2.66h-2.66zM1085.78 1175.83h2.66v2.66h-2.66zM1099.11 1175.83h2.66v2.66h-2.66zM1104.44 1175.83h2.66v2.66h-2.66zM1011.16 1178.49h2.66v2.66h-2.66zM1016.49 1178.49h2.66v2.66h-2.66zM1024.49 1178.49h2.66v2.66h-2.66zM1027.15 1178.49h2.66v2.66h-2.66zM1029.82 1178.49h2.66v2.66h-2.66zM1037.81 1178.49h2.66v2.66h-2.66zM1045.81 1178.49h2.66v2.66h-2.66zM1051.14 1178.49h2.66v2.66h-2.66zM1056.47 1178.49h2.66v2.66h-2.66zM1059.13 1178.49h2.66v2.66h-2.66zM1064.46 1178.49h2.66v2.66h-2.66zM1067.13 1178.49h2.66v2.66h-2.66zM1072.46 1178.49h2.66v2.66h-2.66zM1075.12 1178.49h2.66v2.66h-2.66zM1080.45 1178.49h2.66v2.66h-2.66zM1083.12 1178.49h2.66v2.66h-2.66zM1085.78 1178.49h2.66v2.66h-2.66zM1088.45 1178.49h2.66v2.66h-2.66zM1091.11 1178.49h2.66v2.66h-2.66zM1096.44 1178.49h2.66v2.66h-2.66zM1101.77 1178.49h2.66v2.66h-2.66zM1104.44 1178.49h2.66v2.66h-2.66zM1008.50 1181.16h2.66v2.66h-2.66zM1011.16 1181.16h2.66v2.66h-2.66zM1013.83 1181.16h2.66v2.66h-2.66zM1016.49 1181.16h2.66v2.66h-2.66zM1024.49 1181.16h2.66v2.66h-2.66zM1032.48 1181.16h2.66v2.66h-2.66zM1051.14 1181.16h2.66v2.66h-2.66zM1064.46 1181.16h2.66v2.66h-2.66zM1069.79 1181.16h2.66v2.66h-2.66zM1075.12 1181.16h2.66v2.66h-2.66zM1080.45 1181.16h2.66v2.66h-2.66zM1083.12 1181.16h2.66v2.66h-2.66zM1093.78 1181.16h2.66v2.66h-2.66zM1096.44 1181.16h2.66v2.66h-2.66zM1101.77 1181.16h2.66v2.66h-2.66zM1021.82 1183.82h2.66v2.66h-2.66zM1024.49 1183.82h2.66v2.66h-2.66zM1027.15 1183.82h2.66v2.66h-2.66zM1035.15 1183.82h2.66v2.66h-2.66zM1040.48 1183.82h2.66v2.66h-2.66zM1043.14 1183.82h2.66v2.66h-2.66zM1045.81 1183.82h2.66v2.66h-2.66zM1048.47 1183.82h2.66v2.66h-2.66zM1051.14 1183.82h2.66v2.66h-2.66zM1067.13 1183.82h2.66v2.66h-2.66zM1075.12 1183.82h2.66v2.66h-2.66zM1077.79 1183.82h2.66v2.66h-2.66zM1080.45 1183.82h2.66v2.66h-2.66zM1083.12 1183.82h2.66v2.66h-2.66zM1085.78 1183.82h2.66v2.66h-2.66zM1088.45 1183.82h2.66v2.66h-2.66zM1096.44 1183.82h2.66v2.66h-2.66zM1099.11 1183.82h2.66v2.66h-2.66zM1101.77 1183.82h2.66v2.66h-2.66zM1008.50 1186.49h2.66v2.66h-2.66zM1013.83 1186.49h2.66v2.66h-2.66zM1024.49 1186.49h2.66v2.66h-2.66zM1032.48 1186.49h2.66v2.66h-2.66zM1040.48 1186.49h2.66v2.66h-2.66zM1043.14 1186.49h2.66v2.66h-2.66zM1048.47 1186.49h2.66v2.66h-2.66zM1051.14 1186.49h2.66v2.66h-2.66zM1053.80 1186.49h2.66v2.66h-2.66zM1056.47 1186.49h2.66v2.66h-2.66zM1064.46 1186.49h2.66v2.66h-2.66zM1067.13 1186.49h2.66v2.66h-2.66zM1072.46 1186.49h2.66v2.66h-2.66zM1077.79 1186.49h2.66v2.66h-2.66zM1083.12 1186.49h2.66v2.66h-2.66zM1085.78 1186.49h2.66v2.66h-2.66zM1088.45 1186.49h2.66v2.66h-2.66zM1091.11 1186.49h2.66v2.66h-2.66zM1093.78 1186.49h2.66v2.66h-2.66zM1104.44 1186.49h2.66v2.66h-2.66zM1008.50 1189.15h2.66v2.66h-2.66zM1013.83 1189.15h2.66v2.66h-2.66zM1024.49 1189.15h2.66v2.66h-2.66zM1027.15 1189.15h2.66v2.66h-2.66zM1029.82 1189.15h2.66v2.66h-2.66zM1032.48 1189.15h2.66v2.66h-2.66zM1035.15 1189.15h2.66v2.66h-2.66zM1037.81 1189.15h2.66v2.66h-2.66zM1053.80 1189.15h2.66v2.66h-2.66zM1059.13 1189.15h2.66v2.66h-2.66zM1067.13 1189.15h2.66v2.66h-2.66zM1069.79 1189.15h2.66v2.66h-2.66zM1072.46 1189.15h2.66v2.66h-2.66zM1077.79 1189.15h2.66v2.66h-2.66zM1088.45 1189.15h2.66v2.66h-2.66zM1091.11 1189.15h2.66v2.66h-2.66zM1099.11 1189.15h2.66v2.66h-2.66zM1101.77 1189.15h2.66v2.66h-2.66zM1011.16 1191.82h2.66v2.66h-2.66zM1013.83 1191.82h2.66v2.66h-2.66zM1019.16 1191.82h2.66v2.66h-2.66zM1021.82 1191.82h2.66v2.66h-2.66zM1032.48 1191.82h2.66v2.66h-2.66zM1040.48 1191.82h2.66v2.66h-2.66zM1043.14 1191.82h2.66v2.66h-2.66zM1045.81 1191.82h2.66v2.66h-2.66zM1051.14 1191.82h2.66v2.66h-2.66zM1059.13 1191.82h2.66v2.66h-2.66zM1072.46 1191.82h2.66v2.66h-2.66zM1080.45 1191.82h2.66v2.66h-2.66zM1085.78 1191.82h2.66v2.66h-2.66zM1093.78 1191.82h2.66v2.66h-2.66zM1096.44 1191.82h2.66v2.66h-2.66zM1099.11 1191.82h2.66v2.66h-2.66zM1101.77 1191.82h2.66v2.66h-2.66zM1104.44 1191.82h2.66v2.66h-2.66zM1029.82 1194.48h2.66v2.66h-2.66zM1035.15 1194.48h2.66v2.66h-2.66zM1051.14 1194.48h2.66v2.66h-2.66zM1053.80 1194.48h2.66v2.66h-2.66zM1059.13 1194.48h2.66v2.66h-2.66zM1072.46 1194.48h2.66v2.66h-2.66zM1075.12 1194.48h2.66v2.66h-2.66zM1077.79 1194.48h2.66v2.66h-2.66zM1080.45 1194.48h2.66v2.66h-2.66zM1083.12 1194.48h2.66v2.66h-2.66zM1085.78 1194.48h2.66v2.66h-2.66zM1091.11 1194.48h2.66v2.66h-2.66zM1096.44 1194.48h2.66v2.66h-2.66zM1029.82 1197.15h2.66v2.66h-2.66zM1043.14 1197.15h2.66v2.66h-2.66zM1048.47 1197.15h2.66v2.66h-2.66zM1053.80 1197.15h2.66v2.66h-2.66zM1059.13 1197.15h2.66v2.66h-2.66zM1064.46 1197.15h2.66v2.66h-2.66zM1067.13 1197.15h2.66v2.66h-2.66zM1069.79 1197.15h2.66v2.66h-2.66zM1075.12 1197.15h2.66v2.66h-2.66zM1085.78 1197.15h2.66v2.66h-2.66zM1096.44 1197.15h2.66v2.66h-2.66zM1099.11 1197.15h2.66v2.66h-2.66zM1104.44 1197.15h2.66v2.66h-2.66zM1029.82 1199.81h2.66v2.66h-2.66zM1037.81 1199.81h2.66v2.66h-2.66zM1043.14 1199.81h2.66v2.66h-2.66zM1045.81 1199.81h2.66v2.66h-2.66zM1048.47 1199.81h2.66v2.66h-2.66zM1059.13 1199.81h2.66v2.66h-2.66zM1064.46 1199.81h2.66v2.66h-2.66zM1067.13 1199.81h2.66v2.66h-2.66zM1072.46 1199.81h2.66v2.66h-2.66zM1075.12 1199.81h2.66v2.66h-2.66zM1077.79 1199.81h2.66v2.66h-2.66zM1085.78 1199.81h2.66v2.66h-2.66zM1093.78 1199.81h2.66v2.66h-2.66zM1101.77 1199.81h2.66v2.66h-2.66zM1029.82 1202.48h2.66v2.66h-2.66zM1032.48 1202.48h2.66v2.66h-2.66zM1035.15 1202.48h2.66v2.66h-2.66zM1040.48 1202.48h2.66v2.66h-2.66zM1043.14 1202.48h2.66v2.66h-2.66zM1045.81 1202.48h2.66v2.66h-2.66zM1051.14 1202.48h2.66v2.66h-2.66zM1056.47 1202.48h2.66v2.66h-2.66zM1064.46 1202.48h2.66v2.66h-2.66zM1075.12 1202.48h2.66v2.66h-2.66zM1080.45 1202.48h2.66v2.66h-2.66zM1083.12 1202.48h2.66v2.66h-2.66zM1085.78 1202.48h2.66v2.66h-2.66zM1096.44 1202.48h2.66v2.66h-2.66zM1101.77 1202.48h2.66v2.66h-2.66zM1035.15 1205.14h2.66v2.66h-2.66zM1040.48 1205.14h2.66v2.66h-2.66zM1048.47 1205.14h2.66v2.66h-2.66zM1051.14 1205.14h2.66v2.66h-2.66zM1059.13 1205.14h2.66v2.66h-2.66zM1061.80 1205.14h2.66v2.66h-2.66zM1067.13 1205.14h2.66v2.66h-2.66zM1069.79 1205.14h2.66v2.66h-2.66zM1072.46 1205.14h2.66v2.66h-2.66zM1075.12 1205.14h2.66v2.66h-2.66zM1080.45 1205.14h2.66v2.66h-2.66zM1083.12 1205.14h2.66v2.66h-2.66zM1088.45 1205.14h2.66v2.66h-2.66zM1091.11 1205.14h2.66v2.66h-2.66zM1096.44 1205.14h2.66v2.66h-2.66zM1101.77 1205.14h2.66v2.66h-2.66zM1040.48 1207.81h2.66v2.66h-2.66zM1045.81 1207.81h2.66v2.66h-2.66zM1048.47 1207.81h2.66v2.66h-2.66zM1067.13 1207.81h2.66v2.66h-2.66zM1072.46 1207.81h2.66v2.66h-2.66zM1075.12 1207.81h2.66v2.66h-2.66zM1088.45 1207.81h2.66v2.66h-2.66zM1099.11 1207.81h2.66v2.66h-2.66zM1104.44 1207.81h2.66v2.66h-2.66zM1029.82 1210.47h2.66v2.66h-2.66zM1032.48 1210.47h2.66v2.66h-2.66zM1037.81 1210.47h2.66v2.66h-2.66zM1043.14 1210.47h2.66v2.66h-2.66zM1045.81 1210.47h2.66v2.66h-2.66zM1053.80 1210.47h2.66v2.66h-2.66zM1059.13 1210.47h2.66v2.66h-2.66zM1064.46 1210.47h2.66v2.66h-2.66zM1067.13 1210.47h2.66v2.66h-2.66zM1069.79 1210.47h2.66v2.66h-2.66zM1075.12 1210.47h2.66v2.66h-2.66zM1080.45 1210.47h2.66v2.66h-2.66zM1088.45 1210.47h2.66v2.66h-2.66zM1104.44 1210.47h2.66v2.66h-2.66zM1032.48 1213.14h2.66v2.66h-2.66zM1045.81 1213.14h2.66v2.66h-2.66zM1048.47 1213.14h2.66v2.66h-2.66zM1051.14 1213.14h2.66v2.66h-2.66zM1053.80 1213.14h2.66v2.66h-2.66zM1059.13 1213.14h2.66v2.66h-2.66zM1064.46 1213.14h2.66v2.66h-2.66zM1067.13 1213.14h2.66v2.66h-2.66zM1072.46 1213.14h2.66v2.66h-2.66zM1077.79 1213.14h2.66v2.66h-2.66zM1085.78 1213.14h2.66v2.66h-2.66zM1088.45 1213.14h2.66v2.66h-2.66zM1096.44 1213.14h2.66v2.66h-2.66zM1104.44 1213.14h2.66v2.66h-2.66z" fill="#0c0c0c"/><rect x="1009.83" y="1118.53" width="15.99" height="15.99" fill="none" stroke="#e2211c" stroke-width="2.66"/><rect x="1013.83" y="1122.53" width="7.99" height="7.99" fill="#0c0c0c"/><rect x="1089.78" y="1118.53" width="15.99" height="15.99" fill="none" stroke="#e2211c" stroke-width="2.66"/><rect x="1093.78" y="1122.53" width="7.99" height="7.99" fill="#0c0c0c"/><rect x="1009.83" y="1198.48" width="15.99" height="15.99" fill="none" stroke="#e2211c" stroke-width="2.66"/><rect x="1013.83" y="1202.48" width="7.99" height="7.99" fill="#0c0c0c"/><rect x="1082.58" y="1191.28" width="14.39" height="14.39" fill="#fff"/><rect x="1084.45" y="1193.15" width="10.66" height="10.66" fill="none" stroke="#e2211c" stroke-width="2.66"/><rect x="1088.45" y="1197.15" width="2.66" height="2.66" fill="#0c0c0c"/>
<rect x="1051" y="1160" width="12.5" height="12.5" fill="#dcdcdc"/><path d="M1053 1171L1062 1161.5" stroke="#e2211c" stroke-width="2.2" stroke-linecap="round"/><path d="M1054.5 1163L1060 1169.5" stroke="#e2211c" stroke-width="1.2"/>
<text x="1010.3" y="1115.2" font-size="4.6" fill="#333" textLength="51.0" lengthAdjust="spacingAndGlyphs" >Katalogové číslo: 003-466</text>
<text x="1010.3" y="1220.0" font-size="3.4" fill="#444" textLength="19.5" lengthAdjust="spacingAndGlyphs" >VW Polo 2017 -</text>
<text x="1013.4" y="1249.3" font-size="18.6" fill="#1b1b1b" textLength="89.6" lengthAdjust="spacingAndGlyphs" class="b" stroke="#1b1b1b" stroke-width="0.6">SCAN ME</text>
<g transform="translate(1130 1060) scale(0.11102)"><path d="M315 800V160Q315 118 357 118H920L1190 385V1143Q1190 1185 1148 1185H480" fill="#fff" stroke="#111" stroke-width="30" stroke-linejoin="round"/><path d="M352 800V175Q352 157 370 157H880Q897 157 897 175V372Q897 400 925 400H1140Q1158 400 1158 418V1130Q1158 1148 1140 1148H500" fill="none" stroke="#111" stroke-width="16" stroke-linejoin="round"/><path d="M225 825H440Q460 825 460 845V1045H560Q590 1048 572 1072L345 1322Q325 1340 305 1322L85 1075Q68 1048 98 1045H205V845Q205 825 225 825Z" fill="#e31e26"/><rect x="200" y="235" width="600" height="265" fill="#e31e26"/><path d="M700 650L960 985" stroke="#111" stroke-width="100" fill="none"/><circle cx="990" cy="1030" r="93" fill="#111"/><path d="M640 465A120 120 0 1 1 527 562L620 630L670 605L690 560Z" fill="#fff" stroke="#111" stroke-width="14" stroke-linejoin="round"/><path d="M700 650L960 985" stroke="#fff" stroke-width="72" fill="none"/><circle cx="990" cy="1030" r="79" fill="#fff"/><circle cx="990" cy="1030" r="52" fill="#111"/><circle cx="990" cy="1030" r="38" fill="#fff"/><path d="M740 858L1040 585" stroke="#111" stroke-width="50" fill="none" stroke-linecap="round"/><path d="M985 632L1050 575" stroke="#111" stroke-width="70" fill="none" stroke-linecap="round"/><path d="M665 908L742 852" stroke="#111" stroke-width="100" fill="none"/><path d="M500 1035L670 905" stroke="#111" stroke-width="142" fill="none" stroke-linecap="round"/><path d="M740 858L1040 585" stroke="#fff" stroke-width="22" fill="none" stroke-linecap="round"/><path d="M985 632L1050 575" stroke="#fff" stroke-width="42" fill="none" stroke-linecap="round"/><path d="M655 915L732 859" stroke="#fff" stroke-width="72" fill="none"/><path d="M500 1035L670 905" stroke="#fff" stroke-width="114" fill="none" stroke-linecap="round"/></g>
<text x="1160.5" y="1108.9" font-size="22.0" fill="#fff" textLength="46.7" lengthAdjust="spacingAndGlyphs" class="b" >PDF</text>
<!-- 05_warn.py -->
<rect x="71.6" y="1107.2" width="440" height="222" rx="7" fill="#cfcfcf" opacity="0.6"/>
<rect x="70" y="1105.3" width="440.4" height="222.5" rx="8" fill="#fff" stroke="#111" stroke-width="2.6"/>
<path d="M265.2 1128V1323.3" stroke="#111" stroke-width="2.2"/>
<circle cx="265.2" cy="1113.6" r="18.6" fill="#fff" stroke="#111" stroke-width="1.8"/>
<path d="M265 1101.5L275.3 1120.8H254.7Z" fill="none" stroke="#d0202a" stroke-width="1.7" stroke-linejoin="round"/>
<text x="265.0" y="1118.8" font-size="13.0" fill="#d0202a" text-anchor="middle" >!</text>
<circle cx="77.3" cy="1107" r="11.3" fill="#fff" stroke="#111" stroke-width="1.5"/>
<path d="M70.5 1096.5Q80 1100 84.5 1112" fill="none" stroke="#d0202a" stroke-width="2.2" stroke-linecap="round"/><path d="M91 1093.5Q76 1098 71.5 1110.5" fill="none" stroke="#d0202a" stroke-width="2.4" stroke-linecap="round"/>
<circle cx="503" cy="1112.7" r="11.3" fill="#fff" stroke="#111" stroke-width="1.5"/>
<path d="M498.5 1110.5L503.5 1119.5Q508 1108 521 1103.5Q509 1105.5 503.5 1113.5L501.5 1109Z" fill="#129a3a" stroke="#129a3a" stroke-width="1.4" stroke-linejoin="round"/>
<g transform="translate(60 1090) scale(0.15545)"><rect x="345" y="178" width="90" height="112" rx="8" fill="#fff" stroke="#111" stroke-width="9"/><rect x="298" y="245" width="187" height="80" rx="0" fill="#fff" stroke="#111" stroke-width="9"/><path d="M345 245V325M435 245V325" fill="none" stroke="#111" stroke-width="8" stroke-linejoin="round" stroke-linecap="round"/><rect x="280" y="325" width="220" height="35" rx="0" fill="#fff" stroke="#111" stroke-width="9"/><rect x="203" y="365" width="377" height="75" rx="0" fill="#fff" stroke="#111" stroke-width="9"/><rect x="280" y="440" width="225" height="35" rx="0" fill="#fff" stroke="#111" stroke-width="9"/><rect x="305" y="480" width="180" height="65" rx="0" fill="#fff" stroke="#111" stroke-width="9"/><path d="M350 480V545M440 480V545" fill="none" stroke="#111" stroke-width="8" stroke-linejoin="round" stroke-linecap="round"/><path d="M355 548Q398 566 440 548" fill="none" stroke="#111" stroke-width="10" stroke-linejoin="round" stroke-linecap="round"/><path d="M295 578H495V755H440V790H345V755H295Z" fill="#fff" stroke="#111" stroke-width="9" stroke-linejoin="round" stroke-linecap="round"/><path d="M320 590V745M468 590V745M345 735Q395 715 440 735" fill="none" stroke="#111" stroke-width="7" stroke-linejoin="round" stroke-linecap="round"/><path d="M312 790H462L500 930H270Z" fill="#fff" stroke="#111" stroke-width="9" stroke-linejoin="round" stroke-linecap="round"/><path d="M300 885Q390 870 470 885" fill="none" stroke="#111" stroke-width="7" stroke-linejoin="round" stroke-linecap="round"/><path d="M248 930H515V1365Q380 1425 248 1365Z" fill="#fff" stroke="#111" stroke-width="9" stroke-linejoin="round" stroke-linecap="round"/><path d="M262 950Q385 925 500 950M248 1000H515M248 1085H515M320 1085V1372M435 1085V1372" fill="none" stroke="#111" stroke-width="8" stroke-linejoin="round" stroke-linecap="round"/><path d="M515 1055H560L697 1020L690 1050L600 1090L585 1118L650 1112L930 1125L935 1160H995V1240H945V1298L650 1285L605 1330H515Z" fill="#fff" stroke="#111" stroke-width="9" stroke-linejoin="round" stroke-linecap="round"/><path d="M560 1055V1270L515 1310M650 1150H930" fill="none" stroke="#111" stroke-width="8" stroke-linejoin="round" stroke-linecap="round"/><path d="M680 1163V1280M702 1163V1280M724 1163V1280M746 1163V1280M768 1163V1280M790 1163V1280M812 1163V1280M834 1163V1280M856 1163V1280M878 1163V1280M900 1163V1280" fill="none" stroke="#111" stroke-width="7" stroke-linejoin="round" stroke-linecap="round"/><path d="M910 1175Q935 1210 910 1245" fill="none" stroke="#111" stroke-width="7" stroke-linejoin="round" stroke-linecap="round"/><ellipse cx="755" cy="410" rx="100" ry="45" fill="#fff" stroke="#111" stroke-width="8"/><path d="M656 418Q755 480 854 418" fill="none" stroke="#111" stroke-width="7"/><ellipse cx="755" cy="410" rx="46" ry="20" fill="#fff" stroke="#111" stroke-width="7"/><ellipse cx="757" cy="413" rx="27" ry="10" fill="none" stroke="#111" stroke-width="6"/><g transform=""><path d="M655 702L690 678L752 680L786 706L785 742L740 773L685 766L655 740Z" fill="#fff" stroke="#111" stroke-width="9" stroke-linejoin="round" stroke-linecap="round"/><path d="M655 702L690 727L746 730L786 706M690 727L685 766M746 730L740 773" fill="none" stroke="#111" stroke-width="7" stroke-linejoin="round" stroke-linecap="round"/><path d="M705 528Q740 498 776 528L766 700Q728 716 690 700Z" fill="#fff" stroke="#111" stroke-width="9" stroke-linejoin="round" stroke-linecap="round"/><path d="M706 540L775 536L769 645L698 650Z" fill="#2a2a2a"/><path d="M703 554L773 544M703 565L773 555M703 576L773 566M703 587L773 577M703 598L773 588M703 609L773 599M703 620L773 610M703 631L773 621M703 642L773 632" fill="none" stroke="#ddd" stroke-width="2.5" stroke-linejoin="round" stroke-linecap="round"/><ellipse cx="741" cy="524" rx="20" ry="9" fill="#fff"/></g><path d="M760 362L745 520" fill="none" stroke="#111" stroke-width="5" stroke-linejoin="round" stroke-linecap="round"/><path d="M845 215Q982.5 177 1120 215L1124 260Q982.5 222 841 266Z" fill="#fff" stroke="#111" stroke-width="8" stroke-linejoin="round" stroke-linecap="round"/><path d="M861 247l12 -24M1090 247l12 -24M881 247l12 -24M1070 247l12 -24M901 247l12 -24M1050 247l12 -24M921 247l12 -24M1030 247l12 -24" fill="none" stroke="#111" stroke-width="8" stroke-linejoin="round" stroke-linecap="round"/><path d="M934.5 202V238M1030.5 202V238" fill="none" stroke="#111" stroke-width="6" stroke-linejoin="round" stroke-linecap="round"/><rect x="935" y="295" width="100" height="505" rx="8" fill="#fff" stroke="#111" stroke-width="9"/><path d="M941 314L1029 306M941 337L1029 329M941 360L1029 352M941 383L1029 375M941 406L1029 398M941 429L1029 421M941 452L1029 444M941 475L1029 467M941 498L1029 490M941 521L1029 513M941 544L1029 536" fill="none" stroke="#111" stroke-width="7" stroke-linejoin="round" stroke-linecap="round"/><path d="M939 301H1031" fill="none" stroke="#111" stroke-width="12" stroke-linejoin="round" stroke-linecap="round"/><rect x="915" y="800" width="155" height="60" rx="8" fill="#fff" stroke="#111" stroke-width="9"/><path d="M992.5 804V856" fill="none" stroke="#111" stroke-width="9" stroke-linejoin="round" stroke-linecap="round"/><path d="M925 848Q953.75 858 986.5 848M998.5 848Q1031.25 858 1060 848" fill="none" stroke="#111" stroke-width="6" stroke-linejoin="round" stroke-linecap="round"/></g>
<g transform="translate(270 1090) scale(0.19246)"><path d="M312 118Q447.5 156 583 118L577 163Q447.5 201 318 163Z" fill="#fff" stroke="#111" stroke-width="7" stroke-linejoin="round" stroke-linecap="round"/><path d="M328 166l12 -24M553 166l12 -24M348 166l12 -24M533 166l12 -24M368 166l12 -24M513 166l12 -24M388 166l12 -24M493 166l12 -24" fill="none" stroke="#111" stroke-width="8" stroke-linejoin="round" stroke-linecap="round"/><path d="M399.5 139V175M495.5 139V175" fill="none" stroke="#111" stroke-width="6" stroke-linejoin="round" stroke-linecap="round"/><rect x="405" y="220" width="100" height="435" rx="8" fill="#fff" stroke="#111" stroke-width="7.5"/><path d="M411 239L499 231M411 262L499 254M411 285L499 277M411 308L499 300M411 331L499 323M411 354L499 346M411 377L499 369M411 400L499 392M411 423L499 415" fill="none" stroke="#111" stroke-width="7" stroke-linejoin="round" stroke-linecap="round"/><path d="M409 226H501" fill="none" stroke="#111" stroke-width="12" stroke-linejoin="round" stroke-linecap="round"/><rect x="378" y="655" width="147" height="50" rx="8" fill="#fff" stroke="#111" stroke-width="7.5"/><path d="M451.5 659V701" fill="none" stroke="#111" stroke-width="7.5" stroke-linejoin="round" stroke-linecap="round"/><path d="M388 693Q414.75 703 445.5 693M457.5 693Q488.25 703 515 693" fill="none" stroke="#111" stroke-width="6" stroke-linejoin="round" stroke-linecap="round"/><ellipse cx="785" cy="543" rx="68" ry="30" fill="#fff" stroke="#111" stroke-width="7"/><path d="M718 548Q785 590 852 548" fill="none" stroke="#111" stroke-width="6"/><ellipse cx="785" cy="543" rx="32" ry="13" fill="#fff" stroke="#111" stroke-width="6"/><ellipse cx="787" cy="545" rx="18" ry="7" fill="none" stroke="#111" stroke-width="5"/><g transform="translate(795 608) rotate(-10.8) scale(0.69) translate(-740 -515)"><path d="M655 702L690 678L752 680L786 706L785 742L740 773L685 766L655 740Z" fill="#fff" stroke="#111" stroke-width="9" stroke-linejoin="round" stroke-linecap="round"/><path d="M655 702L690 727L746 730L786 706M690 727L685 766M746 730L740 773" fill="none" stroke="#111" stroke-width="7" stroke-linejoin="round" stroke-linecap="round"/><path d="M705 528Q740 498 776 528L766 700Q728 716 690 700Z" fill="#fff" stroke="#111" stroke-width="9" stroke-linejoin="round" stroke-linecap="round"/><path d="M706 540L775 536L769 645L698 650Z" fill="#2a2a2a"/><path d="M703 554L773 544M703 565L773 555M703 576L773 566M703 587L773 577M703 598L773 588M703 609L773 599M703 620L773 610M703 631L773 621M703 642L773 632" fill="none" stroke="#ddd" stroke-width="2.5" stroke-linejoin="round" stroke-linecap="round"/><ellipse cx="741" cy="524" rx="20" ry="9" fill="#fff"/></g><path d="M785 505L795 620" fill="none" stroke="#111" stroke-width="4" stroke-linejoin="round" stroke-linecap="round"/><path d="M950 245H1090L1105 258V295H935V258Z" fill="#fff" stroke="#111" stroke-width="7.5" stroke-linejoin="round" stroke-linecap="round"/><path d="M980 250V295M1065 250V295" fill="none" stroke="#111" stroke-width="7" stroke-linejoin="round" stroke-linecap="round"/><rect x="950" y="295" width="140" height="20" rx="0" fill="#fff" stroke="#111" stroke-width="7"/><rect x="912" y="315" width="218" height="32" rx="0" fill="#fff" stroke="#111" stroke-width="7.5"/><path d="M845 348H1198V412H850M850 395V448M843 412H858" fill="none" stroke="#111" stroke-width="7.5" stroke-linejoin="round" stroke-linecap="round"/><rect x="918" y="418" width="207" height="29" rx="0" fill="#fff" stroke="#111" stroke-width="7.5"/><path d="M935 452H1105V505L1090 522H950L935 505Z" fill="#fff" stroke="#111" stroke-width="7.5" stroke-linejoin="round" stroke-linecap="round"/><path d="M980 455V520M1060 455V520" fill="none" stroke="#111" stroke-width="7" stroke-linejoin="round" stroke-linecap="round"/><path d="M975 522H1060V618Q1017 640 975 618Z" fill="#fff" stroke="#111" stroke-width="7.5" stroke-linejoin="round" stroke-linecap="round"/><path d="M975 610H1060" fill="none" stroke="#111" stroke-width="6" stroke-linejoin="round" stroke-linecap="round"/><path d="M945 650H1118Q1127 650 1127 660L1122 815H1080V895H990V815H940L938 660Q938 650 945 650Z" fill="#fff" stroke="#111" stroke-width="7.5" stroke-linejoin="round" stroke-linecap="round"/><path d="M975 680V800M1005 675V830M1065 675V830M1095 680V800" fill="none" stroke="#111" stroke-width="6.5" stroke-linejoin="round" stroke-linecap="round"/><rect x="1000" y="895" width="50" height="21" rx="0" fill="#fff" stroke="#111" stroke-width="7"/><path d="M905 922Q905 915 915 915H1085Q1095 915 1095 925V1005Q1095 1015 1085 1015H915Q905 1015 905 1008Z" fill="#fff" stroke="#111" stroke-width="7.5" stroke-linejoin="round" stroke-linecap="round"/><path d="M925 1017H980V1028H925Z" fill="#fff" stroke="#111" stroke-width="6" stroke-linejoin="round" stroke-linecap="round"/><path d="M640 875L660 882Q690 905 720 915L890 930Q900 925 905 920V1010Q900 1005 890 1000L720 1020Q690 1030 660 1055L640 1067Z" fill="#fff" stroke="#111" stroke-width="7.5" stroke-linejoin="round" stroke-linecap="round"/><path d="M720 915V1020M890 930Q905 965 890 1000" fill="none" stroke="#111" stroke-width="6.5" stroke-linejoin="round" stroke-linecap="round"/><path d="M200 902L625 893Q640 880 645 872Q665 970 650 1068Q640 1058 625 1047L200 1048Z" fill="#fff" stroke="#111" stroke-width="7.5" stroke-linejoin="round" stroke-linecap="round"/><path d="M200 930L632 922M200 958L636 952M200 988L636 985M200 1018L632 1017" fill="none" stroke="#111" stroke-width="6.5" stroke-linejoin="round" stroke-linecap="round"/><path d="M165 880Q135 890 140 975Q135 1065 165 1075Q190 1062 200 1047V905Q190 890 165 880Z" fill="#fff" stroke="#111" stroke-width="7.5" stroke-linejoin="round" stroke-linecap="round"/><path d="M165 882Q150 975 165 1074" fill="none" stroke="#111" stroke-width="6" stroke-linejoin="round" stroke-linecap="round"/></g>
<!-- 06_info.py -->
<path d="M67.7 1390.8V1348Q67.7 1341.5 74 1341.5H547.3L507.7 1390.8Z" fill="#9b999b"/>
<path d="M67.7 1390V1778Q67.7 1785.2 75 1785.2H551.5Q558.5 1785.2 558.5 1778V1512" fill="none" stroke="#111" stroke-width="2.6"/>
<circle cx="101.6" cy="1366.6" r="18" fill="#fff"/>
<circle cx="143.9" cy="1366.6" r="18" fill="#fff"/>
<circle cx="185.5" cy="1366.6" r="18" fill="#fff"/>
<text x="95.8" y="1379.0" font-size="36.0" fill="#9b999b" textLength="13.5" lengthAdjust="spacingAndGlyphs" class="s b i" >i</text>
<path d="M143.9 1353.8L155.6 1375.3H132.2Z" fill="none" stroke="#9b999b" stroke-width="1.9" stroke-linejoin="round"/>
<text x="143.9" y="1373.0" font-size="14.5" fill="#9b999b" text-anchor="middle" >!</text>
<path d="M171.5 1366.6Q185.5 1353 199.5 1366.6Q185.5 1380 171.5 1366.6Z" fill="none" stroke="#9b999b" stroke-width="2"/><circle cx="185.5" cy="1366.6" r="6.4" fill="none" stroke="#9b999b" stroke-width="2.6"/><circle cx="185.5" cy="1366.6" r="2.4" fill="#9b999b"/>
<g transform="translate(-20.50 1327.90) scale(0.2500)"><path d="M451.6 413.5C449.5 405 449.5 396 450.2 389C452 378 456 362 464.8 356C499 345 545 334 569 324.8C588 313 606 302 624.8 295.2C656 288 708 284 725.7 284.8C761 287 801 302 812.7 307.4C840 318 861 324 873.6 325.8C880 340 886 366 885.7 371.8C885 384 881 399 878.8 403C868 411 843 413 833.5 412.8C833.5 392 818 376.5 798 376.5C778 376.5 763.5 392 763 416.3L562.2 420.5L560 417C559 393 545 376.5 524.6 376.5C504 376.5 490.5 393 490 416C475 419 462 417 451.6 413.5Z" fill="#dcdcdc" stroke="#333" stroke-width="3.2" stroke-linejoin="round"/><path d="M572 342.9L788.3 337C791 331 791.8 328.3 791.8 328.3C771 310 749 300 725.7 297C708 296 659 298 631.8 305.7C607 317 588 330 572 342.9Z" fill="#efefef" stroke="#333" stroke-width="3"/><path d="M572 342.9C565 360 566 388 570.5 400.5M678.9 341C680.5 360 679.5 378 677 394.5M788.3 337L757.5 403L566 415" fill="none" stroke="#333" stroke-width="3"/><path d="M640 336H688V384" fill="none" stroke="#222" stroke-width="4.5"/><circle cx="524.6" cy="408.5" r="30.5" fill="#999" stroke="#333" stroke-width="3"/><circle cx="524.6" cy="408.5" r="21" fill="#fff" stroke="#444" stroke-width="2.5"/><circle cx="524.6" cy="408.5" r="9" fill="#999" stroke="#444" stroke-width="2"/><path d="M524.6 388V429M504.1 408.5H545.1M510.1 394L539.1 423M510.1 423L539.1 394" stroke="#555" stroke-width="2.4"/><circle cx="798" cy="408.5" r="30.5" fill="#999" stroke="#333" stroke-width="3"/><circle cx="798" cy="408.5" r="21" fill="#fff" stroke="#444" stroke-width="2.5"/><circle cx="798" cy="408.5" r="9" fill="#999" stroke="#444" stroke-width="2"/><path d="M798 388V429M777.5 408.5H818.5M783.5 394L812.5 423M783.5 423L812.5 394" stroke="#555" stroke-width="2.4"/></g>
<g transform="translate(227.4 1412.8)"><rect x="0" y="0" width="40.5" height="15" rx="1.5" fill="#e9e9e9" stroke="#333" stroke-width="0.7"/><rect x="0" y="15" width="40.5" height="3.4" rx="1" fill="#e6e6e6" stroke="#333" stroke-width="0.5"/><path d="M0 5H40.5" stroke="#333" stroke-width="0.5"/><path d="M3 3.2H37" stroke="#666" stroke-width="1.6" stroke-dasharray="5 1.5"/><circle cx="20.7" cy="15.3" r="7.1" fill="#b5b5b5" stroke="#444" stroke-width="0.6"/><circle cx="20.7" cy="15.3" r="5" fill="#fff" stroke="#444" stroke-width="0.5"/><circle cx="20.7" cy="15.3" r="1.3" fill="#888"/><path d="M17 1.5" /><path d="M17.5 -10.5h5v2h-1.2l2.4 3v3.5h-7.4v-3.5l2.4-3h-1.2z" fill="#111"/><rect x="19.4" y="-12" width="1.2" height="1.6" fill="#111"/><path d="M-27 10.6H-23L-19.5 7.7H-14M-21 -0.2H-11L-6 7.6H0" fill="none" stroke="#111" stroke-width="0.9"/><circle cx="-17" cy="4.4" r="2.6" fill="#111"/><path d="M-20 3.8A3.1 3.3 0 0 1 -14 3.8" fill="none" stroke="#111" stroke-width="0.8"/><text x="-20.0" y="14.5" font-size="3.1" fill="#111" textLength="18.0" lengthAdjust="spacingAndGlyphs" class="b" >Classe A50-X</text></g>
<g transform="translate(225.80 1327.90) scale(0.2500)"><path d="M451.6 413.5C449.5 405 449.5 396 450.2 389C452 378 456 362 464.8 356C499 345 545 334 569 324.8C588 313 606 302 624.8 295.2C656 288 708 284 725.7 284.8C761 287 801 302 812.7 307.4C840 318 861 324 873.6 325.8C880 340 886 366 885.7 371.8C885 384 881 399 878.8 403C868 411 843 413 833.5 412.8C833.5 392 818 376.5 798 376.5C778 376.5 763.5 392 763 416.3L562.2 420.5L560 417C559 393 545 376.5 524.6 376.5C504 376.5 490.5 393 490 416C475 419 462 417 451.6 413.5Z" fill="#dcdcdc" stroke="#333" stroke-width="3.2" stroke-linejoin="round"/><path d="M572 342.9L788.3 337C791 331 791.8 328.3 791.8 328.3C771 310 749 300 725.7 297C708 296 659 298 631.8 305.7C607 317 588 330 572 342.9Z" fill="#efefef" stroke="#333" stroke-width="3"/><path d="M572 342.9C565 360 566 388 570.5 400.5M678.9 341C680.5 360 679.5 378 677 394.5M788.3 337L757.5 403L566 415" fill="none" stroke="#333" stroke-width="3"/><path d="M640 336H688V384" fill="none" stroke="#222" stroke-width="4.5"/><circle cx="524.6" cy="408.5" r="30.5" fill="#999" stroke="#333" stroke-width="3"/><circle cx="524.6" cy="408.5" r="21" fill="#fff" stroke="#444" stroke-width="2.5"/><circle cx="524.6" cy="408.5" r="9" fill="#999" stroke="#444" stroke-width="2"/><path d="M524.6 388V429M504.1 408.5H545.1M510.1 394L539.1 423M510.1 423L539.1 394" stroke="#555" stroke-width="2.4"/><circle cx="798" cy="408.5" r="30.5" fill="#999" stroke="#333" stroke-width="3"/><circle cx="798" cy="408.5" r="21" fill="#fff" stroke="#444" stroke-width="2.5"/><circle cx="798" cy="408.5" r="9" fill="#999" stroke="#444" stroke-width="2"/><path d="M798 388V429M777.5 408.5H818.5M783.5 394L812.5 423M783.5 423L812.5 394" stroke="#555" stroke-width="2.4"/></g>
<g transform="translate(474.2 1412.8)"><rect x="0" y="0" width="40.5" height="15" rx="1.5" fill="#e9e9e9" stroke="#333" stroke-width="0.7"/><rect x="0" y="15" width="40.5" height="3.4" rx="1" fill="#e6e6e6" stroke="#333" stroke-width="0.5"/><path d="M0 5H40.5" stroke="#333" stroke-width="0.5"/><path d="M3 3.2H37" stroke="#666" stroke-width="1.6" stroke-dasharray="5 1.5"/><circle cx="20.7" cy="15.3" r="7.1" fill="#b5b5b5" stroke="#444" stroke-width="0.6"/><circle cx="20.7" cy="15.3" r="5" fill="#fff" stroke="#444" stroke-width="0.5"/><circle cx="20.7" cy="15.3" r="1.3" fill="#888"/><path d="M17 1.5" /><path d="M17.5 -10.5h5v2h-1.2l2.4 3v3.5h-7.4v-3.5l2.4-3h-1.2z" fill="#111"/><rect x="19.4" y="-12" width="1.2" height="1.6" fill="#111"/><path d="M-27 10.6H-23L-19.5 7.7H-14M-21 -0.2H-11L-6 7.6H0" fill="none" stroke="#111" stroke-width="0.9"/><circle cx="-17" cy="4.4" r="2.6" fill="#111"/><path d="M-20 3.8A3.1 3.3 0 0 1 -14 3.8" fill="none" stroke="#111" stroke-width="0.8"/><text x="-20.0" y="14.5" font-size="3.1" fill="#111" textLength="18.0" lengthAdjust="spacingAndGlyphs" class="b" >Classe A50-X</text></g>
<path d="M274.8 1423.5L286.8 1419V1428Z" fill="#333"/><rect x="286.8" y="1420.6" width="9.5" height="5.8" fill="#999" stroke="#555" stroke-width="0.6"/><path d="M289.8 1420.6v5.8M293.3 1420.6v5.8" stroke="#444" stroke-width="0.7"/>
<path d="M307.5 1423.5L319.5 1419V1428Z" fill="#333"/><rect x="319.5" y="1420.6" width="9.5" height="5.8" fill="#999" stroke="#555" stroke-width="0.6"/><path d="M322.5 1420.6v5.8M326.0 1420.6v5.8" stroke="#444" stroke-width="0.7"/>
<path d="M192 1447V1477H243M388 1477H442.2V1447" fill="none" stroke="#141414" stroke-width="1.4"/>
<path d="M192.0 1433.5L195.6 1447.5H188.4Z" fill="#fff" stroke="#141414" stroke-width="1.1" stroke-linejoin="round"/>
<path d="M442.2 1433.5L445.8 1447.5H438.6Z" fill="#fff" stroke="#141414" stroke-width="1.1" stroke-linejoin="round"/>
<text x="209.4" y="1464.3" font-size="29.5" fill="#141414" textLength="211.0" lengthAdjust="spacingAndGlyphs" >Max -&gt;1000 km</text>
<text x="452.6" y="1465.0" font-size="29.5" fill="#141414" textLength="64.7" lengthAdjust="spacingAndGlyphs" >0 km</text>
<g transform="translate(242.0 1477.0)"><path d="M2.0 -5.5H14.0Q18.1 -6.5 20.1 -4L26.1 -3.4V3.4L20.1 4Q18.1 6.5 14.0 6.5H2.0Q0 6.5 0 4.5V-3.5Q0 -5.5 2.0 -5.5Z" fill="#fff" stroke="#141414" stroke-width="1.5" stroke-linejoin="round"/><rect x="5.0" y="6.5" width="6.0" height="5.5" fill="#fff" stroke="#141414" stroke-width="1.3"/><circle cx="17.1" cy="0" r="1.6" fill="none" stroke="#141414" stroke-width="0.9"/><path d="M26.1 -3.4H68.2V3.4H26.1Z" fill="#fff" stroke="#141414" stroke-width="1.4"/><path d="M68.2 -4.6H94.3L98.3 -6.5V6.5L94.3 4.6H68.2Z" fill="#fff" stroke="#141414" stroke-width="1.4" stroke-linejoin="round"/><path d="M98.3 -7.6L101.3 -8.6H141.5Q143.5 -9.5 146.5 -8.5V8.5Q143.5 9.5 141.5 8.6H101.3L98.3 7.6Z" fill="#fff" stroke="#141414" stroke-width="1.5" stroke-linejoin="round"/></g>
<rect x="341" y="1469" width="43" height="16.5" fill="#333"/><path d="M343 1471.5H384M343 1474.5H384M343 1477.5H384M343 1480.5H384M343 1483.5H384" stroke="#999" stroke-width="0.8"/>
<path d="M265.3 1490.5A27.2 12.6 0 1 1 229 1483.3" fill="none" stroke="#141414" stroke-width="3.8" stroke-linecap="round"/><path d="M226.5 1477.8L243.5 1480.6L229.5 1490.2Z" fill="#141414"/>
<text x="276.7" y="1505.3" font-size="24.7" fill="#141414" textLength="38.5" lengthAdjust="spacingAndGlyphs" class="b" >Nm</text>
<text x="90.0" y="1537.8" font-size="20.0" fill="#141414" textLength="50.8" lengthAdjust="spacingAndGlyphs" class="b" stroke="#141414" stroke-width="0.35">Pevnost</text>
<text x="183.2" y="1537.8" font-size="20.0" fill="#141414" textLength="20.4" lengthAdjust="spacingAndGlyphs" class="b" stroke="#141414" stroke-width="0.35">8,8</text>
<text x="233.2" y="1537.8" font-size="20.0" fill="#141414" textLength="27.0" lengthAdjust="spacingAndGlyphs" class="b" stroke="#141414" stroke-width="0.35">10,9</text>
<text x="278.6" y="1537.8" font-size="20.0" fill="#141414" textLength="27.0" lengthAdjust="spacingAndGlyphs" class="b" stroke="#141414" stroke-width="0.35">12,9</text>
<text x="103.5" y="1563.9" font-size="20.0" fill="#141414" textLength="19.3" lengthAdjust="spacingAndGlyphs" class="b" stroke="#141414" stroke-width="0.35">M6</text>
<text x="186.3" y="1563.9" font-size="19.5" fill="#222" textLength="17.3" lengthAdjust="spacingAndGlyphs" >9,7</text>
<text x="236.7" y="1563.9" font-size="19.5" fill="#222" textLength="24.2" lengthAdjust="spacingAndGlyphs" >14,3</text>
<text x="282.2" y="1563.9" font-size="19.5" fill="#222" textLength="24.2" lengthAdjust="spacingAndGlyphs" >16,1</text>
<text x="103.5" y="1590.1" font-size="20.0" fill="#141414" textLength="19.3" lengthAdjust="spacingAndGlyphs" class="b" stroke="#141414" stroke-width="0.35">M8</text>
<text x="179.4" y="1590.1" font-size="19.5" fill="#222" textLength="24.2" lengthAdjust="spacingAndGlyphs" >24,5</text>
<text x="236.7" y="1590.1" font-size="19.5" fill="#222" textLength="24.2" lengthAdjust="spacingAndGlyphs" >35,9</text>
<text x="282.2" y="1590.1" font-size="19.5" fill="#222" textLength="24.2" lengthAdjust="spacingAndGlyphs" >42,0</text>
<text x="103.5" y="1616.3" font-size="20.0" fill="#141414" textLength="28.0" lengthAdjust="spacingAndGlyphs" class="b" stroke="#141414" stroke-width="0.35">M10</text>
<text x="179.4" y="1616.3" font-size="19.5" fill="#222" textLength="24.2" lengthAdjust="spacingAndGlyphs" >48,4</text>
<text x="236.7" y="1616.3" font-size="19.5" fill="#222" textLength="24.2" lengthAdjust="spacingAndGlyphs" >71,0</text>
<text x="282.2" y="1616.3" font-size="19.5" fill="#222" textLength="24.2" lengthAdjust="spacingAndGlyphs" >83,0</text>
<text x="103.5" y="1642.6" font-size="20.0" fill="#141414" textLength="28.0" lengthAdjust="spacingAndGlyphs" class="b" stroke="#141414" stroke-width="0.35">M12</text>
<text x="179.4" y="1642.6" font-size="19.5" fill="#222" textLength="24.2" lengthAdjust="spacingAndGlyphs" >84,0</text>
<text x="230.5" y="1642.6" font-size="19.5" fill="#222" textLength="30.4" lengthAdjust="spacingAndGlyphs" >123,0</text>
<text x="276.0" y="1642.6" font-size="19.5" fill="#222" textLength="30.4" lengthAdjust="spacingAndGlyphs" >144,0</text>
<text x="103.5" y="1668.8" font-size="20.0" fill="#141414" textLength="28.0" lengthAdjust="spacingAndGlyphs" class="b" stroke="#141414" stroke-width="0.35">M14</text>
<text x="173.2" y="1668.8" font-size="19.5" fill="#222" textLength="30.4" lengthAdjust="spacingAndGlyphs" >133,0</text>
<text x="230.5" y="1668.8" font-size="19.5" fill="#222" textLength="30.4" lengthAdjust="spacingAndGlyphs" >196,0</text>
<text x="276.0" y="1668.8" font-size="19.5" fill="#222" textLength="30.4" lengthAdjust="spacingAndGlyphs" >229,0</text>
<text x="103.5" y="1695.0" font-size="20.0" fill="#141414" textLength="28.0" lengthAdjust="spacingAndGlyphs" class="b" stroke="#141414" stroke-width="0.35">M16</text>
<text x="173.2" y="1695.0" font-size="19.5" fill="#222" textLength="30.4" lengthAdjust="spacingAndGlyphs" >137,0</text>
<text x="230.5" y="1695.0" font-size="19.5" fill="#222" textLength="30.4" lengthAdjust="spacingAndGlyphs" >307,0</text>
<text x="276.0" y="1695.0" font-size="19.5" fill="#222" textLength="30.4" lengthAdjust="spacingAndGlyphs" >359,0</text>
<circle cx="125.5" cy="1747.8" r="19.8" fill="#fff" stroke="#141414" stroke-width="1.8"/>
<path d="M114 1732Q127 1738 139 1766" fill="none" stroke="#d0202a" stroke-width="3.4" stroke-linecap="round"/><path d="M149 1732.5Q124 1742 113.5 1763" fill="none" stroke="#d0202a" stroke-width="3.6" stroke-linecap="round"/>
<circle cx="334.5" cy="1747.8" r="19.8" fill="#fff" stroke="#141414" stroke-width="1.8"/>
<path d="M326 1745L336.5 1761Q345 1742 365.5 1733Q346 1737 336.5 1750.5L332.5 1743Z" fill="#129a3a" stroke="#129a3a" stroke-width="2" stroke-linejoin="round"/>
<g transform="translate(190 1718.5) rotate(21) scale(0.94)"><path d="M13 12H22L26 17H47V32H36L33 37H13Z" fill="#fff" stroke="#141414" stroke-width="1.9" stroke-linejoin="round"/><path d="M28 18V31M31 18V31M34 18V31M37 18V31M40 18V31M43 18V31" stroke="#141414" stroke-width="1.5"/><rect x="47" y="21" width="5" height="8" fill="#fff" stroke="#141414" stroke-width="1.5"/><path d="M14 36L20 47" stroke="#141414" stroke-width="2" fill="none"/><rect x="-14" y="0" width="28" height="42" rx="3" fill="#fff" stroke="#141414" stroke-width="2.1"/><path d="M-14 9H14M-14 28H14M-5 9V28M5 9V28M-14 34H14" stroke="#141414" stroke-width="1.7" fill="none"/><path d="M-12 42L-9 51H9L12 42" fill="#fff" stroke="#141414" stroke-width="1.9" stroke-linejoin="round"/><rect x="-5.5" y="51" width="11" height="6" fill="#fff" stroke="#141414" stroke-width="1.7"/></g>
<g transform="translate(374.9 1737.0)"><path d="M2.2 -5.5H15.7Q20.2 -6.5 22.4 -4L29.1 -3.4V3.4L22.4 4Q20.2 6.5 15.7 6.5H2.2Q0 6.5 0 4.5V-3.5Q0 -5.5 2.2 -5.5Z" fill="#fff" stroke="#141414" stroke-width="1.5" stroke-linejoin="round"/><rect x="5.6" y="6.5" width="6.7" height="5.5" fill="#fff" stroke="#141414" stroke-width="1.3"/><circle cx="19.0" cy="0" r="1.6" fill="none" stroke="#141414" stroke-width="0.9"/><path d="M29.1 -3.4H76.2V3.4H29.1Z" fill="#fff" stroke="#141414" stroke-width="1.4"/><path d="M76.2 -4.6H105.3L109.8 -6.5V6.5L105.3 4.6H76.2Z" fill="#fff" stroke="#141414" stroke-width="1.4" stroke-linejoin="round"/><path d="M109.8 -7.6L113.2 -8.6H158.0Q160.2 -9.5 163.6 -8.5V8.5Q160.2 9.5 158.0 8.6H113.2L109.8 7.6Z" fill="#fff" stroke="#141414" stroke-width="1.5" stroke-linejoin="round"/></g>
<path d="M483 1729.5H536M483 1733H536M483 1737H536M483 1741H536M483 1744.5H536" stroke="#141414" stroke-width="1"/>
<text x="414.1" y="1765.4" font-size="27.0" fill="#141414" textLength="42.4" lengthAdjust="spacingAndGlyphs" class="b" >Nm</text>
<g transform="translate(340 1510) scale(0.16284)"><path d="M105 135Q200 120 300 92Q640 95 1000 122Q1080 150 1098 230" fill="none" stroke="#222" stroke-width="7" stroke-linejoin="round" stroke-linecap="round"/><path d="M440 215Q520 200 600 162Q700 150 760 172M750 225Q760 175 800 170L1000 180M490 235H560" fill="none" stroke="#222" stroke-width="7" stroke-linejoin="round" stroke-linecap="round"/><circle cx="280" cy="240" r="157" fill="#fff" stroke="#222" stroke-width="7"/><circle cx="280" cy="240" r="125" fill="none" stroke="#222" stroke-width="7"/><circle cx="280" cy="250" r="24" fill="none" stroke="#222" stroke-width="7"/><path d="M195 205Q190 150 240 145Q280 150 282 195M283 195Q290 148 335 147Q375 160 368 205M160 215Q280 170 400 215" fill="none" stroke="#222" stroke-width="7" stroke-linejoin="round" stroke-linecap="round"/><path d="M185 250Q160 260 175 290Q200 335 245 345Q260 335 235 310Q210 290 205 262Q200 248 185 250ZM375 250Q400 260 385 290Q360 335 315 345Q300 335 325 310Q350 290 355 262Q360 248 375 250Z" fill="none" stroke="#222" stroke-width="7" stroke-linejoin="round" stroke-linecap="round"/><path d="M575 440H535Q515 440 515 420V255Q515 240 530 240H730Q745 240 745 255V420Q745 440 725 440H655" fill="none" stroke="#222" stroke-width="7" stroke-linejoin="round" stroke-linecap="round"/><path d="M537 258H728V298H537Z" fill="none" stroke="#222" stroke-width="7" stroke-linejoin="round" stroke-linecap="round"/><circle cx="492" cy="285" r="13" fill="none" stroke="#222" stroke-width="6"/><path d="M450 300Q470 330 465 380Q475 440 550 465M735 300Q745 360 735 410M725 480Q740 540 735 600" fill="none" stroke="#222" stroke-width="7" stroke-linejoin="round" stroke-linecap="round"/><path d="M590 385Q615 370 645 385Q655 430 645 470Q615 485 590 472Q575 430 590 385ZM608 395L622 412" fill="#fff" stroke="#222" stroke-width="7" stroke-linejoin="round" stroke-linecap="round"/><path d="M590 478Q575 540 555 565Q535 600 555 640Q600 670 650 645Q690 610 670 570Q645 560 640 478M580 590Q570 620 600 640Q640 645 655 600Q650 570 630 560" fill="none" stroke="#222" stroke-width="7" stroke-linejoin="round" stroke-linecap="round"/><path d="M785 335H935Q950 335 950 350V400Q950 415 935 415H785Q770 415 770 400V350Q770 335 785 335Z" fill="none" stroke="#222" stroke-width="7" stroke-linejoin="round" stroke-linecap="round"/><path d="M840 180L965 200L935 345L805 325Z" fill="#fff" stroke="#222" stroke-width="6" stroke-linejoin="round" stroke-linecap="round"/><ellipse cx="895" cy="228" rx="48" ry="22" fill="none" stroke="#222" stroke-width="5" transform="rotate(9 895 228)"/><path d="M860 225Q890 205 925 235M832 262L950 280" fill="none" stroke="#222" stroke-width="4" stroke-linejoin="round" stroke-linecap="round"/><text x="840.0" y="295.0" font-size="19.0" fill="#333" textLength="85.0" lengthAdjust="spacingAndGlyphs" class="b" transform="rotate(9 840 295)">MANUAL</text><text x="832.0" y="322.0" font-size="19.0" fill="#444" textLength="85.0" lengthAdjust="spacingAndGlyphs" class="b i" transform="rotate(9 832 322)">catalog</text><path d="M1037 178H1060Q1070 178 1070 188V222Q1070 232 1060 232H1037Q1027 232 1027 222V188Q1027 178 1037 178Z" fill="none" stroke="#222" stroke-width="7" stroke-linejoin="round" stroke-linecap="round"/><path d="M755 830L1000 645Q1075 605 1108 540Q1125 480 1045 432L1072 400L940 365L985 480L1015 455Q1065 500 1048 560Q1030 610 985 640L775 790" fill="#fff" stroke="#222" stroke-width="6" stroke-linejoin="round" stroke-linecap="round"/><path d="M225 620Q260 595 305 600Q340 590 380 610Q420 615 450 650Q470 690 465 720Q440 760 410 775Q370 800 345 850Q330 880 310 905M235 650L250 680M255 665L275 705M290 690L300 720M370 660Q385 690 375 715L420 690M395 640Q410 660 435 665" fill="none" stroke="#222" stroke-width="5" stroke-linejoin="round" stroke-linecap="round"/><path d="M388 540L540 850" fill="none" stroke="#444" stroke-width="9" stroke-linejoin="round" stroke-linecap="round"/><path d="M388 540L540 850" fill="none" stroke="#ddd" stroke-width="3" stroke-linejoin="round" stroke-linecap="round"/><path d="M605 650L665 680L500 890L460 920Z" fill="#888" stroke="#222" stroke-width="6" stroke-linejoin="round" stroke-linecap="round"/><path d="M605 650L540 835" fill="none" stroke="#222" stroke-width="7" stroke-linejoin="round" stroke-linecap="round"/><path d="M665 675L960 970L745 1235L460 920Z" fill="#fff" stroke="#222" stroke-width="9" stroke-linejoin="round" stroke-linecap="round"/><path d="M900 920L950 975L790 1160L750 1115Z" fill="#e2212a"/><path d="M950 975L962 988L752 1232L740 1218Z" fill="#aaa"/><path d="M800 1085L815 1100M845 1030L860 1045M890 975L905 990" fill="none" stroke="#f2b0b0" stroke-width="3" stroke-linejoin="round" stroke-linecap="round"/><text x="548.0" y="925.0" font-size="46.0" fill="#111" textLength="200.0" lengthAdjust="spacingAndGlyphs" class="b" transform="rotate(-51 548 925)">MANUAL</text><text x="712.0" y="1010.0" font-size="27.0" fill="#111" textLength="75.0" lengthAdjust="spacingAndGlyphs" class="b" transform="rotate(-51 712 1010)">INFO</text><text x="712.0" y="1070.0" font-size="27.0" fill="#111" textLength="125.0" lengthAdjust="spacingAndGlyphs" class="b" transform="rotate(-51 712 1070)">QR CODE</text><text x="718.0" y="1140.0" font-size="25.0" fill="#111" textLength="265.0" lengthAdjust="spacingAndGlyphs" class="b" transform="rotate(-51 718 1140)">www.SVCGROUP.cz</text><path d="M625 890Q610 870 630 860Q645 870 640 890Q650 930 690 915L720 885Q710 860 725 850" fill="none" stroke="#222" stroke-width="12" stroke-linejoin="round" stroke-linecap="round"/><path d="M625 890Q610 870 630 860Q645 870 640 890Q650 930 690 915L720 885Q710 860 725 850" fill="none" stroke="#fff" stroke-width="5" stroke-linejoin="round" stroke-linecap="round"/></g>
<!-- 07_homol.py -->
<path d="M600 1394.5V1354Q600 1346 608 1346H1283L1227.7 1394.5Z" fill="#9b999b"/>
<path d="M600 1394V1774.5Q600 1782.5 608 1782.5H1284.2Q1292.2 1782.5 1292.2 1774.5V1507" fill="none" stroke="#111" stroke-width="2.6"/>
<circle cx="626.8" cy="1371" r="17.6" fill="#e4e3e4"/><circle cx="626.8" cy="1370" r="8.5" fill="none" stroke="#9b999b" stroke-width="1.2"/><path d="M618.3 1370H635.3M626.8 1361.5V1378.5M620.8 1364L632.8 1376M632.8 1364L620.8 1376" stroke="#9b999b" stroke-width="0.8"/><circle cx="626.8" cy="1370" r="4.5" fill="none" stroke="#9b999b" stroke-width="0.9"/>
<path d="M616 1366Q613 1378 626.8 1384.5Q640.5 1378 637.6 1366" fill="none" stroke="#9b999b" stroke-width="2.6" stroke-dasharray="2.2 1.3"/>
<circle cx="666.7" cy="1372.6" r="17" fill="#fff"/><text x="661.2" y="1384.4" font-size="34.0" fill="#9b999b" textLength="12.8" lengthAdjust="spacingAndGlyphs" class="s b i" >i</text>
<circle cx="706.7" cy="1370" r="17" fill="#fff"/><path d="M706.7 1358L717.6 1378H695.8Z" fill="none" stroke="#9b999b" stroke-width="1.8" stroke-linejoin="round"/><text x="706.7" y="1376.0" font-size="13.5" fill="#9b999b" text-anchor="middle" >!</text>
<text x="731.4" y="1383.0" font-size="28.4" fill="#fff" textLength="273.5" lengthAdjust="spacingAndGlyphs" >Homologace EHK 55-R</text>
<text x="1053.7" y="1382.5" font-size="28.0" fill="#fff" textLength="174.0" lengthAdjust="spacingAndGlyphs" class="b" >55R-01-0578</text>
<g transform="translate(730 1410) scale(0.21466)"><path d="M55 130Q100 122 125 105M310 98Q500 88 700 95Q870 100 950 120Q1025 150 1040 225" fill="none" stroke="#222" stroke-width="7" stroke-linejoin="round" stroke-linecap="round"/><path d="M335 118Q480 118 545 130Q562 140 540 152Q480 178 385 200" fill="none" stroke="#222" stroke-width="7" stroke-linejoin="round" stroke-linecap="round"/><path d="M385 218Q470 212 520 205Q575 195 612 158L672 155Q692 160 690 200Q688 213 675 215L440 228" fill="none" stroke="#222" stroke-width="7" stroke-linejoin="round" stroke-linecap="round"/><circle cx="228" cy="232" r="156" fill="#fff" stroke="#222" stroke-width="7"/><path d="M105 205Q95 185 120 160Q228 60 335 160Q360 185 350 205Q228 160 105 205Z" fill="none" stroke="#222" stroke-width="7" stroke-linejoin="round" stroke-linecap="round"/><path d="M140 190Q140 140 180 135Q222 140 225 185M232 185Q238 140 278 137Q318 145 316 190" fill="none" stroke="#222" stroke-width="7" stroke-linejoin="round" stroke-linecap="round"/><circle cx="228" cy="248" r="24" fill="none" stroke="#222" stroke-width="7"/><path d="M118 248Q95 255 105 285Q130 335 185 348Q205 340 190 318Q150 300 140 262Q135 245 118 248ZM338 248Q361 255 351 285Q326 335 271 348Q251 340 266 318Q306 300 316 262Q321 245 338 248Z" fill="none" stroke="#222" stroke-width="7" stroke-linejoin="round" stroke-linecap="round"/><path d="M520 435H478Q465 435 465 420V255Q465 240 480 240H675Q690 240 690 255V415Q690 430 665 432L600 435" fill="none" stroke="#222" stroke-width="7" stroke-linejoin="round" stroke-linecap="round"/><path d="M483 255H678V292H483Z" fill="none" stroke="#222" stroke-width="7" stroke-linejoin="round" stroke-linecap="round"/><circle cx="440" cy="280" r="13" fill="none" stroke="#222" stroke-width="7"/><path d="M390 290Q415 300 415 360Q420 440 495 460" fill="none" stroke="#222" stroke-width="7" stroke-linejoin="round" stroke-linecap="round"/><path d="M720 160H920Q935 160 935 175V390Q935 405 920 405H720Q705 405 705 390V175Q705 160 720 160ZM715 285H770M905 285H935" fill="none" stroke="#222" stroke-width="7" stroke-linejoin="round" stroke-linecap="round"/><path d="M970 180H993Q1005 180 1005 192V223Q1005 235 993 235H970Q958 235 958 223V192Q958 180 970 180Z" fill="none" stroke="#222" stroke-width="7" stroke-linejoin="round" stroke-linecap="round"/><path d="M790 178L800 168L918 270L850 352L755 245Z" fill="#fff" stroke="#222" stroke-width="6" stroke-linejoin="round" stroke-linecap="round"/><path d="M800 170L768 250M795 174L762 248" fill="none" stroke="#222" stroke-width="3" stroke-linejoin="round" stroke-linecap="round"/><path d="M903 262L918 273L858 347L843 336Z" fill="#e2212a"/><path d="M800 255Q795 235 812 240Q830 260 860 245Q858 230 872 232M805 268Q830 285 862 262" fill="none" stroke="#222" stroke-width="5" stroke-linejoin="round" stroke-linecap="round"/><path d="M885 312L965 298L950 328Q1010 372 1098 342L1110 380Q1010 420 925 368L915 395Z" fill="#e9e9e9" stroke="#222" stroke-width="6" stroke-linejoin="round" stroke-linecap="round"/><circle cx="1190" cy="335" r="89" fill="#fff" stroke="#111" stroke-width="9"/><path d="M1128 292L1180 335" fill="none" stroke="#111" stroke-width="13" stroke-linejoin="round" stroke-linecap="round"/><path d="M1178 288L1135 330" fill="none" stroke="#111" stroke-width="9" stroke-linejoin="round" stroke-linecap="round"/><circle cx="1130" cy="290" r="13" fill="#111"/><circle cx="1124" cy="282" r="6" fill="#fff"/><path d="M1122 338L1140 322" stroke="#111" stroke-width="16" stroke-linecap="round"/><circle cx="1215" cy="362" r="33" fill="none" stroke="#333" stroke-width="9" stroke-dasharray="7 7"/><text x="1215.0" y="374.0" font-size="30.0" fill="#111" textLength="40.0" lengthAdjust="spacingAndGlyphs" text-anchor="middle" class="b" >EU</text></g>
<rect x="1056.5" y="1417.3" width="189.5" height="94.2" rx="9" fill="#fff" stroke="#777" stroke-width="1"/><rect x="1059.5" y="1420.3" width="183.5" height="88.2" rx="6.5" fill="none" stroke="#888" stroke-width="0.8"/>
<text x="1066.2" y="1434.6" font-size="9.2" fill="#222" textLength="80.0" lengthAdjust="spacingAndGlyphs" class="b" >Approval Number</text><text x="1153.0" y="1434.6" font-size="9.2" fill="#222" textLength="25.0" lengthAdjust="spacingAndGlyphs" class="b" >Class</text>
<rect x="1180.3" y="1424.4" width="37" height="12.8" fill="#fff" stroke="#a01820" stroke-width="1"/><text x="1183.0" y="1435.0" font-size="10.2" fill="#b01820" textLength="31.5" lengthAdjust="spacingAndGlyphs" class="b" >A50-X</text>
<circle cx="1234.6" cy="1427" r="2.6" fill="none" stroke="#333" stroke-width="0.8"/><circle cx="1068" cy="1501.3" r="2.3" fill="none" stroke="#333" stroke-width="0.8"/>
<rect x="1066.2" y="1444.1" width="80.5" height="18.3" fill="none" stroke="#444" stroke-width="1"/><rect x="1068.2" y="1446.1" width="24.4" height="14.3" fill="none" stroke="#444" stroke-width="0.8"/>
<text x="1070.3" y="1457.8" font-size="10.5" fill="#222" textLength="20.0" lengthAdjust="spacingAndGlyphs" class="s" >E xx</text><text x="1097.0" y="1458.4" font-size="13.0" fill="#222" textLength="46.0" lengthAdjust="spacingAndGlyphs" >00-xxxx</text>
<text x="1066.2" y="1477.4" font-size="8.3" fill="#222" textLength="20.0" lengthAdjust="spacingAndGlyphs" class="b" >Type</text><text x="1152.4" y="1477.4" font-size="8.3" fill="#222" textLength="34.0" lengthAdjust="spacingAndGlyphs" class="b" >D-Value</text><text x="1190.2" y="1477.4" font-size="9.0" fill="#222" textLength="4.8" lengthAdjust="spacingAndGlyphs" >D</text><text x="1226.0" y="1477.4" font-size="8.3" fill="#222" textLength="11.5" lengthAdjust="spacingAndGlyphs" class="b" >kN</text>
<text x="1066.2" y="1494.0" font-size="8.6" fill="#222" textLength="21.0" lengthAdjust="spacingAndGlyphs" class="b" >Series</text><text x="1152.4" y="1494.0" font-size="8.3" fill="#222" textLength="30.0" lengthAdjust="spacingAndGlyphs" class="b" >Vert.ld</text><text x="1190.2" y="1494.0" font-size="9.0" fill="#222" textLength="4.6" lengthAdjust="spacingAndGlyphs" >S</text><text x="1226.0" y="1494.0" font-size="8.3" fill="#222" textLength="11.0" lengthAdjust="spacingAndGlyphs" class="b" >kg</text>
<rect x="1092.5" y="1468.7" width="54.2" height="10.8" fill="#fff" stroke="#444" stroke-width="0.8"/>
<rect x="1196.3" y="1468.7" width="27.4" height="10.8" fill="#fff" stroke="#444" stroke-width="0.8"/>
<rect x="1092.5" y="1485.3" width="54.2" height="10.8" fill="#fff" stroke="#444" stroke-width="0.8"/>
<rect x="1196.3" y="1485.3" width="27.4" height="10.8" fill="#fff" stroke="#444" stroke-width="0.8"/>
<text x="1079.3" y="1503.6" font-size="7.6" fill="#222" textLength="205.5" lengthAdjust="spacingAndGlyphs" class="b" >www.svcgroup - CZECH REPUBLIC</text>
<circle cx="637.1" cy="1560.0" r="14.6" fill="#5b5657"/>
<text x="637.1" y="1564.4" font-size="12.0" fill="#fff" textLength="19.0" lengthAdjust="spacingAndGlyphs" text-anchor="middle" class="b" >CZ</text>
<text x="664.5" y="1564.5" font-size="21.0" fill="#141414" textLength="236.2" lengthAdjust="spacingAndGlyphs" >Informace k provozu  /  homologaci</text>
<circle cx="637.1" cy="1592.5" r="14.6" fill="#5b5657"/>
<text x="637.1" y="1596.9" font-size="12.0" fill="#fff" textLength="19.0" lengthAdjust="spacingAndGlyphs" text-anchor="middle" class="b" >SK</text>
<text x="664.5" y="1597.0" font-size="21.0" fill="#141414" textLength="267.0" lengthAdjust="spacingAndGlyphs" >Informácie na prevádzku / homologáciu</text>
<circle cx="637.1" cy="1625.6" r="14.6" fill="#5b5657"/>
<text x="637.1" y="1630.0" font-size="12.0" fill="#fff" textLength="19.0" lengthAdjust="spacingAndGlyphs" text-anchor="middle" class="b" >EN</text>
<text x="664.5" y="1630.2" font-size="21.0" fill="#141414" textLength="259.6" lengthAdjust="spacingAndGlyphs" >Operating / homologation information</text>
<circle cx="637.1" cy="1658.1" r="14.6" fill="#5b5657"/>
<text x="637.1" y="1662.5" font-size="12.0" fill="#fff" textLength="19.0" lengthAdjust="spacingAndGlyphs" text-anchor="middle" class="b" >DE</text>
<text x="664.5" y="1662.7" font-size="21.0" fill="#141414" textLength="245.4" lengthAdjust="spacingAndGlyphs" >Betriebs- / Zulassungsinformationen</text>
<circle cx="637.1" cy="1691.2" r="14.6" fill="#5b5657"/>
<text x="637.1" y="1695.6" font-size="12.0" fill="#fff" textLength="19.0" lengthAdjust="spacingAndGlyphs" text-anchor="middle" class="b" >HU</text>
<text x="664.5" y="1695.8" font-size="21.0" fill="#141414" textLength="278.5" lengthAdjust="spacingAndGlyphs" >Üzemeltetési / homologációs információk</text>
<circle cx="637.1" cy="1723.8" r="14.6" fill="#5b5657"/>
<text x="637.1" y="1728.2" font-size="12.0" fill="#fff" textLength="19.0" lengthAdjust="spacingAndGlyphs" text-anchor="middle" class="b" >FR</text>
<text x="664.5" y="1728.3" font-size="21.0" fill="#141414" textLength="283.6" lengthAdjust="spacingAndGlyphs" >Informations d'exploitation / homologatio</text>
<circle cx="637.1" cy="1756.9" r="14.6" fill="#5b5657"/>
<text x="637.1" y="1761.3" font-size="12.0" fill="#fff" textLength="19.0" lengthAdjust="spacingAndGlyphs" text-anchor="middle" class="b" >IT</text>
<text x="664.5" y="1761.4" font-size="21.0" fill="#141414" textLength="282.5" lengthAdjust="spacingAndGlyphs" >Informazioni sull'operazione / omologazio</text>
<circle cx="980.6" cy="1562.0" r="14.6" fill="#5b5657"/>
<text x="980.6" y="1566.4" font-size="12.0" fill="#fff" textLength="19.0" lengthAdjust="spacingAndGlyphs" text-anchor="middle" class="b" >NL</text>
<text x="1008.0" y="1566.0" font-size="21.0" fill="#141414" textLength="155.8" lengthAdjust="spacingAndGlyphs" >Monteringsanvisningar</text>
<circle cx="980.6" cy="1594.5" r="14.6" fill="#5b5657"/>
<text x="980.6" y="1598.9" font-size="12.0" fill="#fff" textLength="19.0" lengthAdjust="spacingAndGlyphs" text-anchor="middle" class="b" >ES</text>
<text x="1008.0" y="1598.5" font-size="21.0" fill="#141414" textLength="167.8" lengthAdjust="spacingAndGlyphs" >Instrucciones de montaje</text>
<circle cx="980.6" cy="1627.6" r="14.6" fill="#5b5657"/>
<text x="980.6" y="1632.0" font-size="10.0" fill="#fff" textLength="23.0" lengthAdjust="spacingAndGlyphs" text-anchor="middle" class="b" >FIN</text>
<text x="1008.0" y="1631.7" font-size="21.0" fill="#141414" textLength="130.1" lengthAdjust="spacingAndGlyphs" >Montage-instructie</text>
<circle cx="980.6" cy="1660.1" r="14.6" fill="#5b5657"/>
<text x="980.6" y="1664.5" font-size="12.0" fill="#fff" textLength="19.0" lengthAdjust="spacingAndGlyphs" text-anchor="middle" class="b" >SV</text>
<text x="1009.1" y="1664.2" font-size="21.0" fill="#141414" textLength="98.8" lengthAdjust="spacingAndGlyphs" >Asennusohjeet</text>
<circle cx="980.6" cy="1693.2" r="14.6" fill="#5b5657"/>
<text x="980.6" y="1697.6" font-size="10.0" fill="#fff" textLength="23.0" lengthAdjust="spacingAndGlyphs" text-anchor="middle" class="b" >NOR</text>
<text x="1008.0" y="1697.3" font-size="21.0" fill="#141414" textLength="238.6" lengthAdjust="spacingAndGlyphs" >Drifts- / homologasjonsinformasjon</text>
<circle cx="980.6" cy="1725.8" r="14.6" fill="#5b5657"/>
<text x="980.6" y="1730.2" font-size="12.0" fill="#fff" textLength="19.0" lengthAdjust="spacingAndGlyphs" text-anchor="middle" class="b" >PL</text>
<text x="1008.0" y="1729.8" font-size="21.0" fill="#141414" textLength="278.5" lengthAdjust="spacingAndGlyphs" >Informacje dotyczące pracy / homologacji</text>
<circle cx="980.6" cy="1758.9" r="14.6" fill="#5b5657"/>
<text x="980.6" y="1763.3" font-size="12.0" fill="#fff" textLength="19.0" lengthAdjust="spacingAndGlyphs" text-anchor="middle" class="b" >RU</text>
<text x="1008.0" y="1762.9" font-size="21.0" fill="#141414" textLength="255.1" lengthAdjust="spacingAndGlyphs" >Информация о работе  / омологации</text></svg>
</body></html>
